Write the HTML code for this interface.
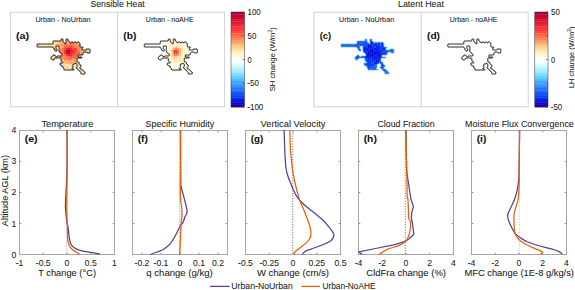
<!DOCTYPE html>
<html><head><meta charset="utf-8"><style>html,body{margin:0;padding:0;background:#fff;width:575px;height:290px;overflow:hidden}svg{display:block}text{font-family:"Liberation Sans",sans-serif;stroke:#1a1a1a;stroke-width:0.06px}</style></head>
<body><svg width="575" height="290" viewBox="0 0 575 290">
<rect width="575" height="290" fill="#fff"/>
<text x="90.40" y="7.00" font-size="8.3" fill="#1a1a1a" textLength="54.30" lengthAdjust="spacingAndGlyphs">Sensible Heat</text>
<text x="398.00" y="6.80" font-size="8.3" fill="#1a1a1a" textLength="45.90" lengthAdjust="spacingAndGlyphs">Latent Heat</text>
<rect x="10.6" y="12.2" width="214.0" height="94.6" fill="none" stroke="#d2d2d2" stroke-width="1"/>
<line x1="117.6" y1="12.2" x2="117.6" y2="106.8" stroke="#d2d2d2" stroke-width="1"/>
<rect x="314.0" y="12.2" width="214.20000000000005" height="94.6" fill="none" stroke="#d2d2d2" stroke-width="1"/>
<line x1="421.2" y1="12.2" x2="421.2" y2="106.8" stroke="#d2d2d2" stroke-width="1"/>
<text x="35.40" y="22.30" font-size="7" fill="#1a1a1a" textLength="55.10" lengthAdjust="spacingAndGlyphs">Urban - NoUrban</text>
<text x="145.80" y="22.30" font-size="7" fill="#1a1a1a" textLength="47.80" lengthAdjust="spacingAndGlyphs">Urban - noAHE</text>
<text x="339.00" y="22.40" font-size="7" fill="#1a1a1a" textLength="55.20" lengthAdjust="spacingAndGlyphs">Urban - NoUrban</text>
<text x="449.70" y="22.40" font-size="7" fill="#1a1a1a" textLength="47.80" lengthAdjust="spacingAndGlyphs">Urban - noAHE</text>
<text x="15.90" y="38.60" font-size="8.2" font-weight="bold" fill="#111" textLength="13.20" lengthAdjust="spacingAndGlyphs">(a)</text>
<text x="123.30" y="38.60" font-size="8.2" font-weight="bold" fill="#111" textLength="13.00" lengthAdjust="spacingAndGlyphs">(b)</text>
<text x="319.70" y="38.60" font-size="8.2" font-weight="bold" fill="#111" textLength="11.40" lengthAdjust="spacingAndGlyphs">(c)</text>
<text x="427.00" y="38.60" font-size="8.2" font-weight="bold" fill="#111" textLength="13.00" lengthAdjust="spacingAndGlyphs">(d)</text>
<rect x="231.0" y="12.00" width="13.5" height="2.67" fill="#a9032f"/>
<rect x="231.0" y="14.38" width="13.5" height="2.67" fill="#ba082c"/>
<rect x="231.0" y="16.75" width="13.5" height="2.67" fill="#c80e2f"/>
<rect x="231.0" y="19.12" width="13.5" height="2.67" fill="#d61432"/>
<rect x="231.0" y="21.50" width="13.5" height="2.67" fill="#e21c36"/>
<rect x="231.0" y="23.88" width="13.5" height="2.67" fill="#ed253a"/>
<rect x="231.0" y="26.25" width="13.5" height="2.67" fill="#f72f40"/>
<rect x="231.0" y="28.62" width="13.5" height="2.67" fill="#fe3740"/>
<rect x="231.0" y="31.00" width="13.5" height="2.67" fill="#ff4e40"/>
<rect x="231.0" y="33.38" width="13.5" height="2.67" fill="#ff6244"/>
<rect x="231.0" y="35.75" width="13.5" height="2.67" fill="#ff744d"/>
<rect x="231.0" y="38.12" width="13.5" height="2.67" fill="#ff8755"/>
<rect x="231.0" y="40.50" width="13.5" height="2.67" fill="#ff9c60"/>
<rect x="231.0" y="42.88" width="13.5" height="2.67" fill="#ffb474"/>
<rect x="231.0" y="45.25" width="13.5" height="2.67" fill="#ffc888"/>
<rect x="231.0" y="47.62" width="13.5" height="2.67" fill="#ffda9a"/>
<rect x="231.0" y="50.00" width="13.5" height="2.67" fill="#feebaf"/>
<rect x="231.0" y="52.38" width="13.5" height="2.67" fill="#fff3c6"/>
<rect x="231.0" y="54.75" width="13.5" height="2.67" fill="#fff7da"/>
<rect x="231.0" y="57.12" width="13.5" height="2.67" fill="#fffcf1"/>
<rect x="231.0" y="59.50" width="13.5" height="2.67" fill="#fcffff"/>
<rect x="231.0" y="61.88" width="13.5" height="2.67" fill="#ecfeff"/>
<rect x="231.0" y="64.25" width="13.5" height="2.67" fill="#d5faff"/>
<rect x="231.0" y="66.62" width="13.5" height="2.67" fill="#bff5ff"/>
<rect x="231.0" y="69.00" width="13.5" height="2.67" fill="#a8efff"/>
<rect x="231.0" y="71.38" width="13.5" height="2.67" fill="#92e9ff"/>
<rect x="231.0" y="73.75" width="13.5" height="2.67" fill="#7cdcff"/>
<rect x="231.0" y="76.12" width="13.5" height="2.67" fill="#66ceff"/>
<rect x="231.0" y="78.50" width="13.5" height="2.67" fill="#50bcff"/>
<rect x="231.0" y="80.88" width="13.5" height="2.67" fill="#3eabff"/>
<rect x="231.0" y="83.25" width="13.5" height="2.67" fill="#369bff"/>
<rect x="231.0" y="85.62" width="13.5" height="2.67" fill="#2d8bff"/>
<rect x="231.0" y="88.00" width="13.5" height="2.67" fill="#2479ff"/>
<rect x="231.0" y="90.38" width="13.5" height="2.67" fill="#1c67fb"/>
<rect x="231.0" y="92.75" width="13.5" height="2.67" fill="#1355f2"/>
<rect x="231.0" y="95.12" width="13.5" height="2.67" fill="#0d40ed"/>
<rect x="231.0" y="97.50" width="13.5" height="2.67" fill="#082ae8"/>
<rect x="231.0" y="99.88" width="13.5" height="2.67" fill="#0816df"/>
<rect x="231.0" y="102.25" width="13.5" height="2.67" fill="#0e06ce"/>
<rect x="231.0" y="104.62" width="13.5" height="2.67" fill="#2000ad"/>
<rect x="231.0" y="12.0" width="13.5" height="95.0" fill="none" stroke="#333" stroke-width="0.5"/>
<rect x="534.8" y="12.00" width="13.200000000000045" height="2.67" fill="#a9032f"/>
<rect x="534.8" y="14.38" width="13.200000000000045" height="2.67" fill="#ba082c"/>
<rect x="534.8" y="16.75" width="13.200000000000045" height="2.67" fill="#c80e2f"/>
<rect x="534.8" y="19.12" width="13.200000000000045" height="2.67" fill="#d61432"/>
<rect x="534.8" y="21.50" width="13.200000000000045" height="2.67" fill="#e21c36"/>
<rect x="534.8" y="23.88" width="13.200000000000045" height="2.67" fill="#ed253a"/>
<rect x="534.8" y="26.25" width="13.200000000000045" height="2.67" fill="#f72f40"/>
<rect x="534.8" y="28.62" width="13.200000000000045" height="2.67" fill="#fe3740"/>
<rect x="534.8" y="31.00" width="13.200000000000045" height="2.67" fill="#ff4e40"/>
<rect x="534.8" y="33.38" width="13.200000000000045" height="2.67" fill="#ff6244"/>
<rect x="534.8" y="35.75" width="13.200000000000045" height="2.67" fill="#ff744d"/>
<rect x="534.8" y="38.12" width="13.200000000000045" height="2.67" fill="#ff8755"/>
<rect x="534.8" y="40.50" width="13.200000000000045" height="2.67" fill="#ff9c60"/>
<rect x="534.8" y="42.88" width="13.200000000000045" height="2.67" fill="#ffb474"/>
<rect x="534.8" y="45.25" width="13.200000000000045" height="2.67" fill="#ffc888"/>
<rect x="534.8" y="47.62" width="13.200000000000045" height="2.67" fill="#ffda9a"/>
<rect x="534.8" y="50.00" width="13.200000000000045" height="2.67" fill="#feebaf"/>
<rect x="534.8" y="52.38" width="13.200000000000045" height="2.67" fill="#fff3c6"/>
<rect x="534.8" y="54.75" width="13.200000000000045" height="2.67" fill="#fff7da"/>
<rect x="534.8" y="57.12" width="13.200000000000045" height="2.67" fill="#fffcf1"/>
<rect x="534.8" y="59.50" width="13.200000000000045" height="2.67" fill="#fcffff"/>
<rect x="534.8" y="61.88" width="13.200000000000045" height="2.67" fill="#ecfeff"/>
<rect x="534.8" y="64.25" width="13.200000000000045" height="2.67" fill="#d5faff"/>
<rect x="534.8" y="66.62" width="13.200000000000045" height="2.67" fill="#bff5ff"/>
<rect x="534.8" y="69.00" width="13.200000000000045" height="2.67" fill="#a8efff"/>
<rect x="534.8" y="71.38" width="13.200000000000045" height="2.67" fill="#92e9ff"/>
<rect x="534.8" y="73.75" width="13.200000000000045" height="2.67" fill="#7cdcff"/>
<rect x="534.8" y="76.12" width="13.200000000000045" height="2.67" fill="#66ceff"/>
<rect x="534.8" y="78.50" width="13.200000000000045" height="2.67" fill="#50bcff"/>
<rect x="534.8" y="80.88" width="13.200000000000045" height="2.67" fill="#3eabff"/>
<rect x="534.8" y="83.25" width="13.200000000000045" height="2.67" fill="#369bff"/>
<rect x="534.8" y="85.62" width="13.200000000000045" height="2.67" fill="#2d8bff"/>
<rect x="534.8" y="88.00" width="13.200000000000045" height="2.67" fill="#2479ff"/>
<rect x="534.8" y="90.38" width="13.200000000000045" height="2.67" fill="#1c67fb"/>
<rect x="534.8" y="92.75" width="13.200000000000045" height="2.67" fill="#1355f2"/>
<rect x="534.8" y="95.12" width="13.200000000000045" height="2.67" fill="#0d40ed"/>
<rect x="534.8" y="97.50" width="13.200000000000045" height="2.67" fill="#082ae8"/>
<rect x="534.8" y="99.88" width="13.200000000000045" height="2.67" fill="#0816df"/>
<rect x="534.8" y="102.25" width="13.200000000000045" height="2.67" fill="#0e06ce"/>
<rect x="534.8" y="104.62" width="13.200000000000045" height="2.67" fill="#2000ad"/>
<rect x="534.8" y="12.0" width="13.200000000000045" height="95.0" fill="none" stroke="#333" stroke-width="0.5"/>
<text x="247.50" y="15.05" font-size="8.5" fill="#1a1a1a" textLength="13.30" lengthAdjust="spacingAndGlyphs">100</text>
<text x="247.50" y="38.80" font-size="8.5" fill="#1a1a1a" textLength="8.80" lengthAdjust="spacingAndGlyphs">50</text>
<text x="247.50" y="62.55" font-size="8.5" fill="#1a1a1a" textLength="4.10" lengthAdjust="spacingAndGlyphs">0</text>
<text x="247.30" y="86.30" font-size="8.5" fill="#1a1a1a" textLength="11.60" lengthAdjust="spacingAndGlyphs">-50</text>
<text x="247.30" y="110.05" font-size="8.5" fill="#1a1a1a" textLength="16.00" lengthAdjust="spacingAndGlyphs">-100</text>
<text x="551.00" y="15.05" font-size="8.5" fill="#1a1a1a" textLength="8.80" lengthAdjust="spacingAndGlyphs">50</text>
<text x="551.00" y="62.55" font-size="8.5" fill="#1a1a1a" textLength="4.10" lengthAdjust="spacingAndGlyphs">0</text>
<text x="550.80" y="110.05" font-size="8.5" fill="#1a1a1a" textLength="11.50" lengthAdjust="spacingAndGlyphs">-50</text>
<line x1="244.5" y1="12.0" x2="242.7" y2="12.0" stroke="#555" stroke-width="0.8"/>
<line x1="244.5" y1="35.75" x2="242.7" y2="35.75" stroke="#555" stroke-width="0.8"/>
<line x1="244.5" y1="59.5" x2="242.7" y2="59.5" stroke="#555" stroke-width="0.8"/>
<line x1="244.5" y1="83.25" x2="242.7" y2="83.25" stroke="#555" stroke-width="0.8"/>
<line x1="244.5" y1="107.0" x2="242.7" y2="107.0" stroke="#555" stroke-width="0.8"/>
<line x1="548.0" y1="12.0" x2="546.2" y2="12.0" stroke="#555" stroke-width="0.8"/>
<line x1="548.0" y1="35.75" x2="546.2" y2="35.75" stroke="#555" stroke-width="0.8"/>
<line x1="548.0" y1="59.5" x2="546.2" y2="59.5" stroke="#555" stroke-width="0.8"/>
<line x1="548.0" y1="83.25" x2="546.2" y2="83.25" stroke="#555" stroke-width="0.8"/>
<line x1="548.0" y1="107.0" x2="546.2" y2="107.0" stroke="#555" stroke-width="0.8"/>
<text transform="translate(274.5,91.3) rotate(-90)" font-size="7.7" fill="#1a1a1a">SH change (W/m<tspan font-size="5.3" dy="-2.8">2</tspan><tspan dy="2.8">)</tspan></text>
<text transform="translate(573.6,88.1) rotate(-90)" font-size="7.5" fill="#1a1a1a">LH change (W/m<tspan font-size="5.2" dy="-2.7">2</tspan><tspan dy="2.7">)</tspan></text>
<defs>
<path id="city" d="M84.6,74.0 84.1,74.0 83.6,74.0 83.1,74.0 82.6,74.0 82.1,74.0 81.6,74.0 81.2,73.9 81.0,73.6 81.0,73.1 81.0,72.6 80.9,72.2 80.6,72.0 80.2,71.9 80.0,71.6 79.9,71.2 79.6,71.0 79.2,70.9 79.0,70.6 78.9,70.2 78.6,70.0 78.2,69.9 78.0,69.6 77.9,69.2 77.6,69.0 77.2,68.9 77.0,68.6 76.9,68.2 76.6,68.0 76.2,67.9 76.0,67.6 76.1,67.2 76.4,67.0 76.8,66.9 77.0,66.6 77.0,66.1 77.0,65.6 77.0,65.1 77.0,64.6 76.9,64.2 76.6,64.0 76.2,63.9 76.0,63.6 75.9,63.2 75.6,63.0 75.2,63.1 75.0,63.4 74.9,63.8 74.6,64.0 74.1,64.0 73.6,64.0 73.2,64.1 73.0,64.4 73.0,64.9 73.0,65.4 73.0,65.9 73.0,66.4 73.0,66.9 73.0,67.4 72.9,67.8 72.6,68.0 72.2,68.1 72.0,68.4 72.1,68.8 72.4,69.0 72.9,69.0 73.4,69.0 73.8,69.1 74.0,69.4 73.9,69.8 73.6,70.0 73.1,70.0 72.6,70.0 72.1,70.0 71.6,70.0 71.1,70.0 70.6,70.0 70.1,70.0 69.6,70.0 69.1,70.0 68.6,70.0 68.1,70.0 67.6,70.0 67.1,70.0 66.6,70.0 66.1,70.0 65.6,70.0 65.1,70.0 64.6,70.0 64.2,69.9 64.0,69.6 64.0,69.1 64.0,68.6 63.9,68.2 63.6,68.0 63.2,67.9 63.0,67.6 63.0,67.1 63.0,66.6 62.9,66.2 62.6,66.0 62.1,66.0 61.6,66.0 61.2,65.9 61.0,65.6 60.9,65.2 60.6,65.0 60.2,64.9 60.0,64.6 60.0,64.1 60.0,63.6 60.1,63.2 60.4,63.0 60.9,63.0 61.4,63.0 61.9,63.0 62.4,63.0 62.8,62.9 63.0,62.6 62.9,62.2 62.6,62.0 62.2,61.9 62.0,61.6 61.9,61.2 61.6,61.0 61.2,60.9 61.0,60.6 61.0,60.1 61.0,59.6 61.0,59.1 61.0,58.6 60.9,58.2 60.6,58.0 60.1,58.0 59.6,58.0 59.1,58.0 58.6,58.0 58.1,58.0 57.6,58.0 57.1,58.0 56.6,58.0 56.1,58.0 55.6,58.0 55.2,58.1 55.0,58.4 54.9,58.8 54.6,59.0 54.2,59.1 54.0,59.4 53.9,59.8 53.6,60.0 53.1,60.0 52.6,60.0 52.2,59.9 52.0,59.6 51.9,59.2 51.6,59.0 51.2,58.9 51.0,58.6 51.0,58.1 51.0,57.6 51.1,57.2 51.4,57.0 51.8,56.9 52.0,56.6 52.1,56.2 52.4,56.0 52.8,55.9 53.0,55.6 53.1,55.2 53.4,55.0 53.9,55.0 54.4,55.0 54.8,55.1 55.0,55.4 55.1,55.8 55.4,56.0 55.8,56.1 56.0,56.4 56.1,56.8 56.4,57.0 56.8,56.9 57.0,56.6 57.1,56.2 57.4,56.0 57.9,56.0 58.4,56.0 58.9,56.0 59.4,56.0 59.9,56.0 60.4,56.0 60.9,56.0 61.4,56.0 61.8,55.9 62.0,55.6 62.0,55.1 62.0,54.6 61.9,54.2 61.6,54.0 61.2,53.9 61.0,53.6 60.9,53.2 60.6,53.0 60.2,52.9 60.0,52.6 59.9,52.2 59.6,52.0 59.2,51.9 59.0,51.6 59.0,51.1 59.0,50.6 59.0,50.1 59.0,49.6 59.0,49.1 59.0,48.6 59.0,48.1 59.0,47.6 59.0,47.1 59.0,46.6 58.9,46.2 58.6,46.0 58.1,46.0 57.6,46.0 57.1,46.0 56.6,46.0 56.2,46.1 56.0,46.4 56.0,46.9 56.0,47.4 56.0,47.9 56.0,48.4 56.1,48.8 56.4,49.0 56.8,49.1 57.0,49.4 57.0,49.9 57.0,50.4 56.9,50.8 56.6,51.0 56.1,51.0 55.6,51.0 55.2,50.9 55.0,50.6 54.9,50.2 54.6,50.0 54.2,49.9 54.0,49.6 54.0,49.1 54.0,48.6 53.9,48.2 53.6,48.0 53.2,47.9 53.0,47.6 52.9,47.2 52.6,47.0 52.1,47.0 51.6,47.0 51.1,47.0 50.6,47.0 50.1,47.0 49.6,47.0 49.1,47.0 48.6,47.0 48.1,47.0 47.6,47.0 47.1,47.0 46.6,47.0 46.1,47.0 45.6,47.0 45.1,47.0 44.6,47.0 44.1,47.0 43.6,47.0 43.1,47.0 42.6,47.0 42.1,47.0 41.6,47.0 41.1,47.0 40.6,47.0 40.1,47.0 39.6,47.0 39.1,47.0 38.6,47.0 38.1,47.0 37.6,47.0 37.2,46.9 37.0,46.6 37.0,46.1 37.0,45.6 37.0,45.1 37.0,44.6 37.1,44.2 37.4,44.0 37.9,44.0 38.4,44.0 38.9,44.0 39.4,44.0 39.9,44.0 40.4,44.0 40.9,44.0 41.4,44.0 41.9,44.0 42.4,44.0 42.9,44.0 43.4,44.0 43.9,44.0 44.4,44.0 44.9,44.0 45.4,44.0 45.9,44.0 46.4,44.0 46.9,44.0 47.4,44.0 47.9,44.0 48.4,44.0 48.9,44.0 49.4,44.0 49.9,44.0 50.4,44.0 50.9,44.0 51.4,44.0 51.9,44.0 52.4,44.0 52.8,43.9 53.0,43.6 53.0,43.1 53.0,42.6 53.0,42.1 53.0,41.6 53.1,41.2 53.4,41.0 53.9,41.0 54.4,41.0 54.9,41.0 55.4,41.0 55.9,41.0 56.4,41.0 56.9,41.0 57.4,41.0 57.9,41.0 58.4,41.0 58.9,41.0 59.4,41.0 59.9,41.0 60.4,41.0 60.8,40.9 61.0,40.6 61.0,40.1 61.0,39.6 61.1,39.2 61.4,39.0 61.9,39.0 62.4,39.0 62.8,39.1 63.0,39.4 63.0,39.9 63.0,40.4 63.0,40.9 63.0,41.4 63.1,41.8 63.4,42.0 63.8,42.1 64.0,42.4 64.1,42.8 64.4,43.0 64.8,43.1 65.0,43.4 65.1,43.8 65.4,44.0 65.8,43.9 66.0,43.6 66.0,43.1 66.0,42.6 66.0,42.1 66.0,41.6 66.0,41.1 66.0,40.6 66.0,40.1 66.0,39.6 66.1,39.2 66.4,39.0 66.9,39.0 67.4,39.0 67.8,39.1 68.0,39.4 68.0,39.9 68.0,40.4 68.1,40.8 68.4,41.0 68.8,41.1 69.0,41.4 69.1,41.8 69.4,42.0 69.8,42.1 70.0,42.4 70.1,42.8 70.4,43.0 70.8,42.9 71.0,42.6 71.1,42.2 71.4,42.0 71.9,42.0 72.4,42.0 72.8,42.1 73.0,42.4 73.1,42.8 73.4,43.0 73.8,42.9 74.0,42.6 74.1,42.2 74.4,42.0 74.9,42.0 75.4,42.0 75.8,42.1 76.0,42.4 76.1,42.8 76.4,43.0 76.8,42.9 77.0,42.6 77.1,42.2 77.4,42.0 77.9,42.0 78.4,42.0 78.8,42.1 79.0,42.4 79.1,42.8 79.4,43.0 79.8,43.1 80.0,43.4 80.0,43.9 80.0,44.4 80.0,44.9 80.0,45.4 80.0,45.9 80.0,46.4 80.1,46.8 80.4,47.0 80.9,47.0 81.4,47.0 81.9,47.0 82.4,47.0 82.8,47.1 83.0,47.4 82.9,47.8 82.6,48.0 82.2,48.1 82.0,48.4 82.0,48.9 82.0,49.4 82.1,49.8 82.4,50.0 82.9,50.0 83.4,50.0 83.9,50.0 84.4,50.0 84.9,50.0 85.4,50.0 85.8,49.9 86.0,49.6 86.1,49.2 86.4,49.0 86.9,49.0 87.4,49.0 87.9,49.0 88.4,49.0 88.9,49.0 89.4,49.0 89.8,49.1 90.0,49.4 90.0,49.9 90.0,50.4 90.0,50.9 90.0,51.4 90.0,51.9 90.0,52.4 89.9,52.8 89.6,53.0 89.1,53.0 88.6,53.0 88.1,53.0 87.6,53.0 87.2,52.9 87.0,52.6 86.9,52.2 86.6,52.0 86.1,52.0 85.6,52.0 85.1,52.0 84.6,52.0 84.2,52.1 84.0,52.4 83.9,52.8 83.6,53.0 83.2,53.1 83.0,53.4 83.0,53.9 83.0,54.4 82.9,54.8 82.6,55.0 82.1,55.0 81.6,55.0 81.1,55.0 80.6,55.0 80.1,55.0 79.6,55.0 79.1,55.0 78.6,55.0 78.2,55.1 78.0,55.4 78.0,55.9 78.0,56.4 78.1,56.8 78.4,57.0 78.9,57.0 79.4,57.0 79.9,57.0 80.4,57.0 80.9,57.0 81.4,57.0 81.8,57.1 82.0,57.4 81.9,57.8 81.6,58.0 81.1,58.0 80.6,58.0 80.1,58.0 79.6,58.0 79.1,58.0 78.6,58.0 78.1,58.0 77.6,58.0 77.2,58.1 77.0,58.4 77.0,58.9 77.0,59.4 77.0,59.9 77.0,60.4 77.0,60.9 77.0,61.4 77.1,61.8 77.4,62.0 77.9,62.0 78.4,62.0 78.8,62.1 79.0,62.4 79.0,62.9 79.0,63.4 79.1,63.8 79.4,64.0 79.8,64.1 80.0,64.4 80.1,64.8 80.4,65.0 80.8,65.1 81.0,65.4 81.0,65.9 81.0,66.4 80.9,66.8 80.6,67.0 80.2,67.1 80.0,67.4 80.0,67.9 80.0,68.4 80.1,68.8 80.4,69.0 80.9,69.0 81.4,69.0 81.8,69.1 82.0,69.4 82.1,69.8 82.4,70.0 82.8,70.1 83.0,70.4 83.1,70.8 83.4,71.0 83.8,71.1 84.0,71.4 84.1,71.8 84.4,72.0 84.8,72.1 85.0,72.4 85.0,72.9 85.0,73.4 84.9,73.8 84.6,74.0Z"/>
<clipPath id="cityclip"><use href="#city"/></clipPath>
<radialGradient id="ga" cx="68.5" cy="51.5" r="24" gradientUnits="userSpaceOnUse"><stop offset="0" stop-color="#a00026"/><stop offset="0.07" stop-color="#d8182e"/><stop offset="0.22" stop-color="#f4483c"/><stop offset="0.42" stop-color="#fd9868"/><stop offset="0.65" stop-color="#fdc48a"/><stop offset="1" stop-color="#fee4aa"/></radialGradient>
<radialGradient id="gb" cx="68.5" cy="52" r="13" gradientUnits="userSpaceOnUse"><stop offset="0" stop-color="#e0102a"/><stop offset="0.18" stop-color="#f84a40"/><stop offset="0.4" stop-color="#fdc088"/><stop offset="0.7" stop-color="#fee8c0"/><stop offset="1" stop-color="#ffffff"/></radialGradient>
</defs>
<g transform="translate(0,0)" clip-path="url(#cityclip)">
<rect x="36" y="38" width="2" height="2" fill="#fff3c6"/>
<rect x="38" y="38" width="4" height="2" fill="#feebaf"/>
<rect x="42" y="38" width="2" height="2" fill="#fff3c6"/>
<rect x="44" y="38" width="2" height="2" fill="#feebaf"/>
<rect x="46" y="38" width="2" height="2" fill="#fff3c6"/>
<rect x="48" y="38" width="4" height="2" fill="#feebaf"/>
<rect x="52" y="38" width="4" height="2" fill="#fff3c6"/>
<rect x="56" y="38" width="4" height="2" fill="#ffda9a"/>
<rect x="60" y="38" width="2" height="2" fill="#ffc888"/>
<rect x="62" y="38" width="2" height="2" fill="#feebaf"/>
<rect x="64" y="38" width="2" height="2" fill="#ffda9a"/>
<rect x="66" y="38" width="2" height="2" fill="#ffc888"/>
<rect x="68" y="38" width="2" height="2" fill="#ffda9a"/>
<rect x="70" y="38" width="4" height="2" fill="#ffb474"/>
<rect x="74" y="38" width="2" height="2" fill="#ffda9a"/>
<rect x="76" y="38" width="2" height="2" fill="#feebaf"/>
<rect x="78" y="38" width="2" height="2" fill="#ffda9a"/>
<rect x="80" y="38" width="2" height="2" fill="#ffc888"/>
<rect x="82" y="38" width="6" height="2" fill="#feebaf"/>
<rect x="88" y="38" width="4" height="2" fill="#fff3c6"/>
<rect x="36" y="40" width="2" height="2" fill="#fff3c6"/>
<rect x="38" y="40" width="2" height="2" fill="#feebaf"/>
<rect x="40" y="40" width="6" height="2" fill="#fff3c6"/>
<rect x="46" y="40" width="2" height="2" fill="#feebaf"/>
<rect x="48" y="40" width="4" height="2" fill="#fff3c6"/>
<rect x="52" y="40" width="6" height="2" fill="#ffda9a"/>
<rect x="58" y="40" width="2" height="2" fill="#feebaf"/>
<rect x="60" y="40" width="4" height="2" fill="#ffb474"/>
<rect x="64" y="40" width="2" height="2" fill="#ffc888"/>
<rect x="66" y="40" width="2" height="2" fill="#ffb474"/>
<rect x="68" y="40" width="6" height="2" fill="#ff9c60"/>
<rect x="74" y="40" width="4" height="2" fill="#ffb474"/>
<rect x="78" y="40" width="2" height="2" fill="#ffc888"/>
<rect x="80" y="40" width="4" height="2" fill="#ffda9a"/>
<rect x="84" y="40" width="2" height="2" fill="#ffc888"/>
<rect x="86" y="40" width="2" height="2" fill="#ffda9a"/>
<rect x="88" y="40" width="4" height="2" fill="#feebaf"/>
<rect x="36" y="42" width="2" height="2" fill="#fff7da"/>
<rect x="38" y="42" width="2" height="2" fill="#fff3c6"/>
<rect x="40" y="42" width="2" height="2" fill="#feebaf"/>
<rect x="42" y="42" width="4" height="2" fill="#fff3c6"/>
<rect x="46" y="42" width="4" height="2" fill="#feebaf"/>
<rect x="50" y="42" width="2" height="2" fill="#ffda9a"/>
<rect x="52" y="42" width="2" height="2" fill="#feebaf"/>
<rect x="54" y="42" width="4" height="2" fill="#ffda9a"/>
<rect x="58" y="42" width="6" height="2" fill="#ffb474"/>
<rect x="64" y="42" width="2" height="2" fill="#ff9c60"/>
<rect x="66" y="42" width="4" height="2" fill="#ffb474"/>
<rect x="70" y="42" width="2" height="2" fill="#ff8755"/>
<rect x="72" y="42" width="2" height="2" fill="#ff744d"/>
<rect x="74" y="42" width="2" height="2" fill="#ff9c60"/>
<rect x="76" y="42" width="2" height="2" fill="#ffb474"/>
<rect x="78" y="42" width="4" height="2" fill="#ffc888"/>
<rect x="82" y="42" width="2" height="2" fill="#ffb474"/>
<rect x="84" y="42" width="2" height="2" fill="#ffc888"/>
<rect x="86" y="42" width="4" height="2" fill="#ffda9a"/>
<rect x="90" y="42" width="2" height="2" fill="#fff3c6"/>
<rect x="36" y="44" width="2" height="2" fill="#feebaf"/>
<rect x="38" y="44" width="2" height="2" fill="#ffda9a"/>
<rect x="40" y="44" width="2" height="2" fill="#feebaf"/>
<rect x="42" y="44" width="4" height="2" fill="#fff3c6"/>
<rect x="46" y="44" width="2" height="2" fill="#feebaf"/>
<rect x="48" y="44" width="2" height="2" fill="#ffda9a"/>
<rect x="50" y="44" width="2" height="2" fill="#fff3c6"/>
<rect x="52" y="44" width="2" height="2" fill="#ffda9a"/>
<rect x="54" y="44" width="2" height="2" fill="#ffc888"/>
<rect x="56" y="44" width="4" height="2" fill="#ffb474"/>
<rect x="60" y="44" width="4" height="2" fill="#ff9c60"/>
<rect x="64" y="44" width="2" height="2" fill="#ff8755"/>
<rect x="66" y="44" width="2" height="2" fill="#ff744d"/>
<rect x="68" y="44" width="2" height="2" fill="#ff8755"/>
<rect x="70" y="44" width="2" height="2" fill="#ff6244"/>
<rect x="72" y="44" width="2" height="2" fill="#ff744d"/>
<rect x="74" y="44" width="4" height="2" fill="#ff8755"/>
<rect x="78" y="44" width="2" height="2" fill="#ff9c60"/>
<rect x="80" y="44" width="2" height="2" fill="#ffb474"/>
<rect x="82" y="44" width="4" height="2" fill="#ffc888"/>
<rect x="86" y="44" width="4" height="2" fill="#ffda9a"/>
<rect x="90" y="44" width="2" height="2" fill="#feebaf"/>
<rect x="36" y="46" width="2" height="2" fill="#fff7da"/>
<rect x="38" y="46" width="4" height="2" fill="#fff3c6"/>
<rect x="42" y="46" width="2" height="2" fill="#feebaf"/>
<rect x="44" y="46" width="8" height="2" fill="#ffda9a"/>
<rect x="52" y="46" width="2" height="2" fill="#feebaf"/>
<rect x="54" y="46" width="2" height="2" fill="#ffc888"/>
<rect x="56" y="46" width="2" height="2" fill="#ffb474"/>
<rect x="58" y="46" width="2" height="2" fill="#ffc888"/>
<rect x="60" y="46" width="2" height="2" fill="#ffb474"/>
<rect x="62" y="46" width="2" height="2" fill="#ff9c60"/>
<rect x="64" y="46" width="4" height="2" fill="#ff6244"/>
<rect x="68" y="46" width="4" height="2" fill="#ff4e40"/>
<rect x="72" y="46" width="2" height="2" fill="#ff6244"/>
<rect x="74" y="46" width="6" height="2" fill="#ff8755"/>
<rect x="80" y="46" width="2" height="2" fill="#ffb474"/>
<rect x="82" y="46" width="4" height="2" fill="#ffc888"/>
<rect x="86" y="46" width="2" height="2" fill="#ffda9a"/>
<rect x="88" y="46" width="4" height="2" fill="#feebaf"/>
<rect x="36" y="48" width="2" height="2" fill="#fff7da"/>
<rect x="38" y="48" width="8" height="2" fill="#fff3c6"/>
<rect x="46" y="48" width="2" height="2" fill="#ffda9a"/>
<rect x="48" y="48" width="4" height="2" fill="#feebaf"/>
<rect x="52" y="48" width="2" height="2" fill="#ffda9a"/>
<rect x="54" y="48" width="2" height="2" fill="#ffb474"/>
<rect x="56" y="48" width="2" height="2" fill="#ffda9a"/>
<rect x="58" y="48" width="2" height="2" fill="#ffb474"/>
<rect x="60" y="48" width="2" height="2" fill="#ff9c60"/>
<rect x="62" y="48" width="2" height="2" fill="#ff6244"/>
<rect x="64" y="48" width="2" height="2" fill="#ff4e40"/>
<rect x="66" y="48" width="2" height="2" fill="#ed253a"/>
<rect x="68" y="48" width="2" height="2" fill="#e21c36"/>
<rect x="70" y="48" width="2" height="2" fill="#ed253a"/>
<rect x="72" y="48" width="2" height="2" fill="#ff4e40"/>
<rect x="74" y="48" width="2" height="2" fill="#fe3740"/>
<rect x="76" y="48" width="2" height="2" fill="#ff6244"/>
<rect x="78" y="48" width="2" height="2" fill="#ff8755"/>
<rect x="80" y="48" width="2" height="2" fill="#ff9c60"/>
<rect x="82" y="48" width="2" height="2" fill="#ffb474"/>
<rect x="84" y="48" width="4" height="2" fill="#ffc888"/>
<rect x="88" y="48" width="2" height="2" fill="#feebaf"/>
<rect x="90" y="48" width="2" height="2" fill="#ffda9a"/>
<rect x="36" y="50" width="2" height="2" fill="#fff7da"/>
<rect x="38" y="50" width="2" height="2" fill="#fff3c6"/>
<rect x="40" y="50" width="4" height="2" fill="#ffda9a"/>
<rect x="44" y="50" width="2" height="2" fill="#fff3c6"/>
<rect x="46" y="50" width="2" height="2" fill="#ffda9a"/>
<rect x="48" y="50" width="2" height="2" fill="#feebaf"/>
<rect x="50" y="50" width="8" height="2" fill="#ffc888"/>
<rect x="58" y="50" width="2" height="2" fill="#ffb474"/>
<rect x="60" y="50" width="4" height="2" fill="#ff744d"/>
<rect x="64" y="50" width="2" height="2" fill="#f72f40"/>
<rect x="66" y="50" width="2" height="2" fill="#c80e2f"/>
<rect x="68" y="50" width="2" height="2" fill="#ba082c"/>
<rect x="70" y="50" width="2" height="2" fill="#e21c36"/>
<rect x="72" y="50" width="2" height="2" fill="#ed253a"/>
<rect x="74" y="50" width="2" height="2" fill="#fe3740"/>
<rect x="76" y="50" width="2" height="2" fill="#ff6244"/>
<rect x="78" y="50" width="2" height="2" fill="#ff744d"/>
<rect x="80" y="50" width="2" height="2" fill="#ff9c60"/>
<rect x="82" y="50" width="2" height="2" fill="#ffb474"/>
<rect x="84" y="50" width="4" height="2" fill="#ffc888"/>
<rect x="88" y="50" width="2" height="2" fill="#ffda9a"/>
<rect x="90" y="50" width="2" height="2" fill="#feebaf"/>
<rect x="36" y="52" width="2" height="2" fill="#fff3c6"/>
<rect x="38" y="52" width="2" height="2" fill="#feebaf"/>
<rect x="40" y="52" width="2" height="2" fill="#fff3c6"/>
<rect x="42" y="52" width="2" height="2" fill="#feebaf"/>
<rect x="44" y="52" width="2" height="2" fill="#fff3c6"/>
<rect x="46" y="52" width="4" height="2" fill="#ffda9a"/>
<rect x="50" y="52" width="2" height="2" fill="#fff3c6"/>
<rect x="52" y="52" width="2" height="2" fill="#feebaf"/>
<rect x="54" y="52" width="2" height="2" fill="#ffda9a"/>
<rect x="56" y="52" width="4" height="2" fill="#ff9c60"/>
<rect x="60" y="52" width="2" height="2" fill="#ff8755"/>
<rect x="62" y="52" width="2" height="2" fill="#ff744d"/>
<rect x="64" y="52" width="2" height="2" fill="#f72f40"/>
<rect x="66" y="52" width="2" height="2" fill="#d61432"/>
<rect x="68" y="52" width="2" height="2" fill="#c80e2f"/>
<rect x="70" y="52" width="2" height="2" fill="#ed253a"/>
<rect x="72" y="52" width="2" height="2" fill="#f72f40"/>
<rect x="74" y="52" width="2" height="2" fill="#ff4e40"/>
<rect x="76" y="52" width="4" height="2" fill="#ff6244"/>
<rect x="80" y="52" width="4" height="2" fill="#ff9c60"/>
<rect x="84" y="52" width="4" height="2" fill="#ffda9a"/>
<rect x="88" y="52" width="2" height="2" fill="#ffc888"/>
<rect x="90" y="52" width="2" height="2" fill="#feebaf"/>
<rect x="36" y="54" width="6" height="2" fill="#feebaf"/>
<rect x="42" y="54" width="6" height="2" fill="#fff3c6"/>
<rect x="48" y="54" width="4" height="2" fill="#ffda9a"/>
<rect x="52" y="54" width="2" height="2" fill="#ffc888"/>
<rect x="54" y="54" width="2" height="2" fill="#ffb474"/>
<rect x="56" y="54" width="2" height="2" fill="#ffc888"/>
<rect x="58" y="54" width="4" height="2" fill="#ff9c60"/>
<rect x="62" y="54" width="2" height="2" fill="#ff8755"/>
<rect x="64" y="54" width="2" height="2" fill="#ff744d"/>
<rect x="66" y="54" width="2" height="2" fill="#f72f40"/>
<rect x="68" y="54" width="2" height="2" fill="#ed253a"/>
<rect x="70" y="54" width="2" height="2" fill="#f72f40"/>
<rect x="72" y="54" width="2" height="2" fill="#ff4e40"/>
<rect x="74" y="54" width="4" height="2" fill="#ff6244"/>
<rect x="78" y="54" width="2" height="2" fill="#ff8755"/>
<rect x="80" y="54" width="2" height="2" fill="#ff9c60"/>
<rect x="82" y="54" width="2" height="2" fill="#ffc888"/>
<rect x="84" y="54" width="4" height="2" fill="#ffda9a"/>
<rect x="88" y="54" width="2" height="2" fill="#ffc888"/>
<rect x="90" y="54" width="2" height="2" fill="#feebaf"/>
<rect x="36" y="56" width="2" height="2" fill="#ffda9a"/>
<rect x="38" y="56" width="4" height="2" fill="#fff3c6"/>
<rect x="42" y="56" width="4" height="2" fill="#feebaf"/>
<rect x="46" y="56" width="2" height="2" fill="#fff3c6"/>
<rect x="48" y="56" width="2" height="2" fill="#feebaf"/>
<rect x="50" y="56" width="2" height="2" fill="#fff3c6"/>
<rect x="52" y="56" width="2" height="2" fill="#feebaf"/>
<rect x="54" y="56" width="2" height="2" fill="#ffc888"/>
<rect x="56" y="56" width="2" height="2" fill="#ffda9a"/>
<rect x="58" y="56" width="2" height="2" fill="#ffc888"/>
<rect x="60" y="56" width="6" height="2" fill="#ff8755"/>
<rect x="66" y="56" width="2" height="2" fill="#ff744d"/>
<rect x="68" y="56" width="2" height="2" fill="#ff6244"/>
<rect x="70" y="56" width="2" height="2" fill="#ff4e40"/>
<rect x="72" y="56" width="2" height="2" fill="#ff744d"/>
<rect x="74" y="56" width="2" height="2" fill="#ff6244"/>
<rect x="76" y="56" width="4" height="2" fill="#ff8755"/>
<rect x="80" y="56" width="2" height="2" fill="#ff9c60"/>
<rect x="82" y="56" width="2" height="2" fill="#ffc888"/>
<rect x="84" y="56" width="4" height="2" fill="#ffda9a"/>
<rect x="88" y="56" width="2" height="2" fill="#feebaf"/>
<rect x="90" y="56" width="2" height="2" fill="#ffda9a"/>
<rect x="36" y="58" width="4" height="2" fill="#fff7da"/>
<rect x="40" y="58" width="2" height="2" fill="#ffda9a"/>
<rect x="42" y="58" width="2" height="2" fill="#fff3c6"/>
<rect x="44" y="58" width="4" height="2" fill="#feebaf"/>
<rect x="48" y="58" width="4" height="2" fill="#fff3c6"/>
<rect x="52" y="58" width="4" height="2" fill="#ffc888"/>
<rect x="56" y="58" width="2" height="2" fill="#ffb474"/>
<rect x="58" y="58" width="2" height="2" fill="#ffda9a"/>
<rect x="60" y="58" width="2" height="2" fill="#ffc888"/>
<rect x="62" y="58" width="2" height="2" fill="#ff9c60"/>
<rect x="64" y="58" width="2" height="2" fill="#ff744d"/>
<rect x="66" y="58" width="2" height="2" fill="#ff8755"/>
<rect x="68" y="58" width="4" height="2" fill="#ff744d"/>
<rect x="72" y="58" width="2" height="2" fill="#ff9c60"/>
<rect x="74" y="58" width="2" height="2" fill="#ff8755"/>
<rect x="76" y="58" width="2" height="2" fill="#ff9c60"/>
<rect x="78" y="58" width="2" height="2" fill="#ffb474"/>
<rect x="80" y="58" width="2" height="2" fill="#ffc888"/>
<rect x="82" y="58" width="2" height="2" fill="#ffda9a"/>
<rect x="84" y="58" width="2" height="2" fill="#ffc888"/>
<rect x="86" y="58" width="4" height="2" fill="#ffda9a"/>
<rect x="90" y="58" width="2" height="2" fill="#feebaf"/>
<rect x="36" y="60" width="2" height="2" fill="#ffda9a"/>
<rect x="38" y="60" width="8" height="2" fill="#fff3c6"/>
<rect x="46" y="60" width="4" height="2" fill="#ffda9a"/>
<rect x="50" y="60" width="4" height="2" fill="#feebaf"/>
<rect x="54" y="60" width="4" height="2" fill="#ffda9a"/>
<rect x="58" y="60" width="2" height="2" fill="#ffc888"/>
<rect x="60" y="60" width="2" height="2" fill="#ffda9a"/>
<rect x="62" y="60" width="2" height="2" fill="#ffc888"/>
<rect x="64" y="60" width="4" height="2" fill="#ffb474"/>
<rect x="68" y="60" width="2" height="2" fill="#ff9c60"/>
<rect x="70" y="60" width="4" height="2" fill="#ffb474"/>
<rect x="74" y="60" width="2" height="2" fill="#ff9c60"/>
<rect x="76" y="60" width="2" height="2" fill="#ffc888"/>
<rect x="78" y="60" width="2" height="2" fill="#ffb474"/>
<rect x="80" y="60" width="4" height="2" fill="#ffc888"/>
<rect x="84" y="60" width="4" height="2" fill="#feebaf"/>
<rect x="88" y="60" width="2" height="2" fill="#ffda9a"/>
<rect x="90" y="60" width="2" height="2" fill="#fff3c6"/>
<rect x="36" y="62" width="2" height="2" fill="#ffda9a"/>
<rect x="38" y="62" width="2" height="2" fill="#fff3c6"/>
<rect x="40" y="62" width="2" height="2" fill="#feebaf"/>
<rect x="42" y="62" width="2" height="2" fill="#ffda9a"/>
<rect x="44" y="62" width="2" height="2" fill="#feebaf"/>
<rect x="46" y="62" width="4" height="2" fill="#fff3c6"/>
<rect x="50" y="62" width="2" height="2" fill="#feebaf"/>
<rect x="52" y="62" width="2" height="2" fill="#ffda9a"/>
<rect x="54" y="62" width="2" height="2" fill="#feebaf"/>
<rect x="56" y="62" width="2" height="2" fill="#ffc888"/>
<rect x="58" y="62" width="2" height="2" fill="#feebaf"/>
<rect x="60" y="62" width="2" height="2" fill="#ffc888"/>
<rect x="62" y="62" width="2" height="2" fill="#ffda9a"/>
<rect x="64" y="62" width="2" height="2" fill="#ffc888"/>
<rect x="66" y="62" width="4" height="2" fill="#ffb474"/>
<rect x="70" y="62" width="2" height="2" fill="#ff9c60"/>
<rect x="72" y="62" width="4" height="2" fill="#ffb474"/>
<rect x="76" y="62" width="2" height="2" fill="#ffc888"/>
<rect x="78" y="62" width="4" height="2" fill="#ffda9a"/>
<rect x="82" y="62" width="2" height="2" fill="#feebaf"/>
<rect x="84" y="62" width="4" height="2" fill="#ffda9a"/>
<rect x="88" y="62" width="4" height="2" fill="#fff3c6"/>
<rect x="36" y="64" width="2" height="2" fill="#ffda9a"/>
<rect x="38" y="64" width="8" height="2" fill="#feebaf"/>
<rect x="46" y="64" width="10" height="2" fill="#fff3c6"/>
<rect x="56" y="64" width="2" height="2" fill="#ffda9a"/>
<rect x="58" y="64" width="2" height="2" fill="#feebaf"/>
<rect x="60" y="64" width="2" height="2" fill="#ffda9a"/>
<rect x="62" y="64" width="2" height="2" fill="#feebaf"/>
<rect x="64" y="64" width="2" height="2" fill="#ffda9a"/>
<rect x="66" y="64" width="2" height="2" fill="#feebaf"/>
<rect x="68" y="64" width="4" height="2" fill="#ffda9a"/>
<rect x="72" y="64" width="2" height="2" fill="#ffc888"/>
<rect x="74" y="64" width="6" height="2" fill="#ffda9a"/>
<rect x="80" y="64" width="2" height="2" fill="#feebaf"/>
<rect x="82" y="64" width="2" height="2" fill="#fff3c6"/>
<rect x="84" y="64" width="8" height="2" fill="#feebaf"/>
<rect x="36" y="66" width="4" height="2" fill="#feebaf"/>
<rect x="40" y="66" width="2" height="2" fill="#fff3c6"/>
<rect x="42" y="66" width="2" height="2" fill="#feebaf"/>
<rect x="44" y="66" width="6" height="2" fill="#fff3c6"/>
<rect x="50" y="66" width="2" height="2" fill="#feebaf"/>
<rect x="52" y="66" width="4" height="2" fill="#ffda9a"/>
<rect x="56" y="66" width="2" height="2" fill="#fff3c6"/>
<rect x="58" y="66" width="2" height="2" fill="#feebaf"/>
<rect x="60" y="66" width="4" height="2" fill="#fff3c6"/>
<rect x="64" y="66" width="2" height="2" fill="#ffda9a"/>
<rect x="66" y="66" width="2" height="2" fill="#ffc888"/>
<rect x="68" y="66" width="2" height="2" fill="#feebaf"/>
<rect x="70" y="66" width="2" height="2" fill="#ffda9a"/>
<rect x="72" y="66" width="2" height="2" fill="#ffc888"/>
<rect x="74" y="66" width="2" height="2" fill="#feebaf"/>
<rect x="76" y="66" width="4" height="2" fill="#ffda9a"/>
<rect x="80" y="66" width="8" height="2" fill="#feebaf"/>
<rect x="88" y="66" width="4" height="2" fill="#ffda9a"/>
<rect x="36" y="68" width="2" height="2" fill="#ffda9a"/>
<rect x="38" y="68" width="2" height="2" fill="#feebaf"/>
<rect x="40" y="68" width="6" height="2" fill="#fff3c6"/>
<rect x="46" y="68" width="4" height="2" fill="#feebaf"/>
<rect x="50" y="68" width="2" height="2" fill="#fff3c6"/>
<rect x="52" y="68" width="4" height="2" fill="#feebaf"/>
<rect x="56" y="68" width="2" height="2" fill="#fff3c6"/>
<rect x="58" y="68" width="2" height="2" fill="#feebaf"/>
<rect x="60" y="68" width="2" height="2" fill="#fff3c6"/>
<rect x="62" y="68" width="2" height="2" fill="#ffda9a"/>
<rect x="64" y="68" width="2" height="2" fill="#fff3c6"/>
<rect x="66" y="68" width="6" height="2" fill="#ffda9a"/>
<rect x="72" y="68" width="2" height="2" fill="#feebaf"/>
<rect x="74" y="68" width="4" height="2" fill="#ffda9a"/>
<rect x="78" y="68" width="2" height="2" fill="#fff3c6"/>
<rect x="80" y="68" width="4" height="2" fill="#ffda9a"/>
<rect x="84" y="68" width="4" height="2" fill="#feebaf"/>
<rect x="88" y="68" width="2" height="2" fill="#fff3c6"/>
<rect x="90" y="68" width="2" height="2" fill="#ffda9a"/>
<rect x="36" y="70" width="2" height="2" fill="#ffda9a"/>
<rect x="38" y="70" width="2" height="2" fill="#fff3c6"/>
<rect x="40" y="70" width="2" height="2" fill="#feebaf"/>
<rect x="42" y="70" width="8" height="2" fill="#fff3c6"/>
<rect x="50" y="70" width="4" height="2" fill="#ffda9a"/>
<rect x="54" y="70" width="2" height="2" fill="#fff3c6"/>
<rect x="56" y="70" width="2" height="2" fill="#feebaf"/>
<rect x="58" y="70" width="8" height="2" fill="#fff3c6"/>
<rect x="66" y="70" width="2" height="2" fill="#feebaf"/>
<rect x="68" y="70" width="4" height="2" fill="#fff3c6"/>
<rect x="72" y="70" width="2" height="2" fill="#feebaf"/>
<rect x="74" y="70" width="2" height="2" fill="#fff3c6"/>
<rect x="76" y="70" width="4" height="2" fill="#feebaf"/>
<rect x="80" y="70" width="2" height="2" fill="#ffda9a"/>
<rect x="82" y="70" width="4" height="2" fill="#fff3c6"/>
<rect x="86" y="70" width="2" height="2" fill="#feebaf"/>
<rect x="88" y="70" width="2" height="2" fill="#fff3c6"/>
<rect x="90" y="70" width="2" height="2" fill="#feebaf"/>
<rect x="36" y="72" width="2" height="2" fill="#fff3c6"/>
<rect x="38" y="72" width="6" height="2" fill="#feebaf"/>
<rect x="44" y="72" width="2" height="2" fill="#ffda9a"/>
<rect x="46" y="72" width="2" height="2" fill="#feebaf"/>
<rect x="48" y="72" width="2" height="2" fill="#fff3c6"/>
<rect x="50" y="72" width="6" height="2" fill="#feebaf"/>
<rect x="56" y="72" width="6" height="2" fill="#fff3c6"/>
<rect x="62" y="72" width="2" height="2" fill="#feebaf"/>
<rect x="64" y="72" width="2" height="2" fill="#fff3c6"/>
<rect x="66" y="72" width="4" height="2" fill="#feebaf"/>
<rect x="70" y="72" width="2" height="2" fill="#ffda9a"/>
<rect x="72" y="72" width="2" height="2" fill="#feebaf"/>
<rect x="74" y="72" width="2" height="2" fill="#ffda9a"/>
<rect x="76" y="72" width="2" height="2" fill="#fff3c6"/>
<rect x="78" y="72" width="4" height="2" fill="#feebaf"/>
<rect x="82" y="72" width="2" height="2" fill="#fff3c6"/>
<rect x="84" y="72" width="2" height="2" fill="#feebaf"/>
<rect x="86" y="72" width="2" height="2" fill="#fff3c6"/>
<rect x="88" y="72" width="2" height="2" fill="#feebaf"/>
<rect x="90" y="72" width="2" height="2" fill="#fff7da"/>
<rect x="36" y="74" width="8" height="2" fill="#fff3c6"/>
<rect x="44" y="74" width="4" height="2" fill="#feebaf"/>
<rect x="48" y="74" width="2" height="2" fill="#fff3c6"/>
<rect x="50" y="74" width="2" height="2" fill="#feebaf"/>
<rect x="52" y="74" width="4" height="2" fill="#fff3c6"/>
<rect x="56" y="74" width="2" height="2" fill="#fff7da"/>
<rect x="58" y="74" width="2" height="2" fill="#fff3c6"/>
<rect x="60" y="74" width="8" height="2" fill="#feebaf"/>
<rect x="68" y="74" width="2" height="2" fill="#ffda9a"/>
<rect x="70" y="74" width="2" height="2" fill="#fff3c6"/>
<rect x="72" y="74" width="2" height="2" fill="#feebaf"/>
<rect x="74" y="74" width="2" height="2" fill="#fff3c6"/>
<rect x="76" y="74" width="2" height="2" fill="#feebaf"/>
<rect x="78" y="74" width="2" height="2" fill="#ffda9a"/>
<rect x="80" y="74" width="4" height="2" fill="#fff3c6"/>
<rect x="84" y="74" width="4" height="2" fill="#feebaf"/>
<rect x="88" y="74" width="2" height="2" fill="#fff3c6"/>
<rect x="90" y="74" width="2" height="2" fill="#fff7da"/>
</g>
<g transform="translate(0,0)"><use href="#city" fill="none" stroke="#000" stroke-width="0.95" stroke-linejoin="round"/></g>
<g transform="translate(107.3,0)" clip-path="url(#cityclip)">
<rect x="36" y="38" width="4" height="2" fill="#fff7da"/>
<rect x="40" y="38" width="4" height="2" fill="#fcffff"/>
<rect x="44" y="38" width="2" height="2" fill="#fff7da"/>
<rect x="46" y="38" width="4" height="2" fill="#fffcf1"/>
<rect x="50" y="38" width="2" height="2" fill="#fcffff"/>
<rect x="52" y="38" width="6" height="2" fill="#fffcf1"/>
<rect x="58" y="38" width="2" height="2" fill="#fcffff"/>
<rect x="60" y="38" width="4" height="2" fill="#fffcf1"/>
<rect x="64" y="38" width="6" height="2" fill="#fff7da"/>
<rect x="70" y="38" width="6" height="2" fill="#fffcf1"/>
<rect x="76" y="38" width="4" height="2" fill="#fcffff"/>
<rect x="80" y="38" width="2" height="2" fill="#fffcf1"/>
<rect x="82" y="38" width="4" height="2" fill="#fcffff"/>
<rect x="86" y="38" width="2" height="2" fill="#fff7da"/>
<rect x="88" y="38" width="4" height="2" fill="#fffcf1"/>
<rect x="36" y="40" width="8" height="2" fill="#fcffff"/>
<rect x="44" y="40" width="2" height="2" fill="#fffcf1"/>
<rect x="46" y="40" width="2" height="2" fill="#fff7da"/>
<rect x="48" y="40" width="2" height="2" fill="#fffcf1"/>
<rect x="50" y="40" width="2" height="2" fill="#fcffff"/>
<rect x="52" y="40" width="2" height="2" fill="#fff7da"/>
<rect x="54" y="40" width="4" height="2" fill="#fffcf1"/>
<rect x="58" y="40" width="6" height="2" fill="#fff7da"/>
<rect x="64" y="40" width="2" height="2" fill="#fffcf1"/>
<rect x="66" y="40" width="4" height="2" fill="#fff3c6"/>
<rect x="70" y="40" width="2" height="2" fill="#fffcf1"/>
<rect x="72" y="40" width="4" height="2" fill="#fff7da"/>
<rect x="76" y="40" width="6" height="2" fill="#fffcf1"/>
<rect x="82" y="40" width="2" height="2" fill="#fff7da"/>
<rect x="84" y="40" width="2" height="2" fill="#fffcf1"/>
<rect x="86" y="40" width="2" height="2" fill="#fff7da"/>
<rect x="88" y="40" width="2" height="2" fill="#fcffff"/>
<rect x="90" y="40" width="2" height="2" fill="#fff7da"/>
<rect x="36" y="42" width="2" height="2" fill="#fff7da"/>
<rect x="38" y="42" width="4" height="2" fill="#fffcf1"/>
<rect x="42" y="42" width="2" height="2" fill="#fff7da"/>
<rect x="44" y="42" width="4" height="2" fill="#fffcf1"/>
<rect x="48" y="42" width="4" height="2" fill="#fcffff"/>
<rect x="52" y="42" width="2" height="2" fill="#fffcf1"/>
<rect x="54" y="42" width="2" height="2" fill="#fcffff"/>
<rect x="56" y="42" width="2" height="2" fill="#fff7da"/>
<rect x="58" y="42" width="2" height="2" fill="#fcffff"/>
<rect x="60" y="42" width="2" height="2" fill="#fff7da"/>
<rect x="62" y="42" width="2" height="2" fill="#fffcf1"/>
<rect x="64" y="42" width="2" height="2" fill="#fff3c6"/>
<rect x="66" y="42" width="10" height="2" fill="#fff7da"/>
<rect x="76" y="42" width="6" height="2" fill="#fffcf1"/>
<rect x="82" y="42" width="2" height="2" fill="#fff7da"/>
<rect x="84" y="42" width="2" height="2" fill="#fffcf1"/>
<rect x="86" y="42" width="2" height="2" fill="#fcffff"/>
<rect x="88" y="42" width="4" height="2" fill="#fffcf1"/>
<rect x="36" y="44" width="2" height="2" fill="#fff7da"/>
<rect x="38" y="44" width="2" height="2" fill="#fcffff"/>
<rect x="40" y="44" width="2" height="2" fill="#fffcf1"/>
<rect x="42" y="44" width="2" height="2" fill="#fcffff"/>
<rect x="44" y="44" width="2" height="2" fill="#fffcf1"/>
<rect x="46" y="44" width="4" height="2" fill="#fcffff"/>
<rect x="50" y="44" width="2" height="2" fill="#fff7da"/>
<rect x="52" y="44" width="2" height="2" fill="#fcffff"/>
<rect x="54" y="44" width="2" height="2" fill="#fffcf1"/>
<rect x="56" y="44" width="2" height="2" fill="#fff7da"/>
<rect x="58" y="44" width="4" height="2" fill="#fffcf1"/>
<rect x="62" y="44" width="2" height="2" fill="#fff3c6"/>
<rect x="64" y="44" width="2" height="2" fill="#fff7da"/>
<rect x="66" y="44" width="2" height="2" fill="#fff3c6"/>
<rect x="68" y="44" width="6" height="2" fill="#fff7da"/>
<rect x="74" y="44" width="2" height="2" fill="#fff3c6"/>
<rect x="76" y="44" width="2" height="2" fill="#fffcf1"/>
<rect x="78" y="44" width="2" height="2" fill="#fff3c6"/>
<rect x="80" y="44" width="2" height="2" fill="#fcffff"/>
<rect x="82" y="44" width="2" height="2" fill="#fff7da"/>
<rect x="84" y="44" width="4" height="2" fill="#fcffff"/>
<rect x="88" y="44" width="2" height="2" fill="#fffcf1"/>
<rect x="90" y="44" width="2" height="2" fill="#fcffff"/>
<rect x="36" y="46" width="2" height="2" fill="#fcffff"/>
<rect x="38" y="46" width="2" height="2" fill="#fffcf1"/>
<rect x="40" y="46" width="4" height="2" fill="#fcffff"/>
<rect x="44" y="46" width="2" height="2" fill="#fff7da"/>
<rect x="46" y="46" width="6" height="2" fill="#fcffff"/>
<rect x="52" y="46" width="4" height="2" fill="#fffcf1"/>
<rect x="56" y="46" width="2" height="2" fill="#fcffff"/>
<rect x="58" y="46" width="4" height="2" fill="#fffcf1"/>
<rect x="62" y="46" width="2" height="2" fill="#fff7da"/>
<rect x="64" y="46" width="2" height="2" fill="#feebaf"/>
<rect x="66" y="46" width="2" height="2" fill="#ffda9a"/>
<rect x="68" y="46" width="2" height="2" fill="#ffc888"/>
<rect x="70" y="46" width="2" height="2" fill="#ffda9a"/>
<rect x="72" y="46" width="2" height="2" fill="#feebaf"/>
<rect x="74" y="46" width="2" height="2" fill="#fff3c6"/>
<rect x="76" y="46" width="2" height="2" fill="#fff7da"/>
<rect x="78" y="46" width="2" height="2" fill="#fffcf1"/>
<rect x="80" y="46" width="2" height="2" fill="#fff7da"/>
<rect x="82" y="46" width="2" height="2" fill="#fffcf1"/>
<rect x="84" y="46" width="2" height="2" fill="#fcffff"/>
<rect x="86" y="46" width="2" height="2" fill="#fffcf1"/>
<rect x="88" y="46" width="2" height="2" fill="#fff7da"/>
<rect x="90" y="46" width="2" height="2" fill="#fcffff"/>
<rect x="36" y="48" width="2" height="2" fill="#fffcf1"/>
<rect x="38" y="48" width="2" height="2" fill="#fcffff"/>
<rect x="40" y="48" width="2" height="2" fill="#fffcf1"/>
<rect x="42" y="48" width="2" height="2" fill="#fcffff"/>
<rect x="44" y="48" width="2" height="2" fill="#fff7da"/>
<rect x="46" y="48" width="2" height="2" fill="#fcffff"/>
<rect x="48" y="48" width="4" height="2" fill="#fffcf1"/>
<rect x="52" y="48" width="2" height="2" fill="#fcffff"/>
<rect x="54" y="48" width="2" height="2" fill="#fffcf1"/>
<rect x="56" y="48" width="4" height="2" fill="#fcffff"/>
<rect x="60" y="48" width="2" height="2" fill="#fffcf1"/>
<rect x="62" y="48" width="2" height="2" fill="#fff7da"/>
<rect x="64" y="48" width="2" height="2" fill="#feebaf"/>
<rect x="66" y="48" width="2" height="2" fill="#ff9c60"/>
<rect x="68" y="48" width="2" height="2" fill="#ff8755"/>
<rect x="70" y="48" width="2" height="2" fill="#ff9c60"/>
<rect x="72" y="48" width="2" height="2" fill="#ffc888"/>
<rect x="74" y="48" width="2" height="2" fill="#ffda9a"/>
<rect x="76" y="48" width="4" height="2" fill="#fff7da"/>
<rect x="80" y="48" width="6" height="2" fill="#fffcf1"/>
<rect x="86" y="48" width="2" height="2" fill="#fff7da"/>
<rect x="88" y="48" width="2" height="2" fill="#fffcf1"/>
<rect x="90" y="48" width="2" height="2" fill="#fcffff"/>
<rect x="36" y="50" width="4" height="2" fill="#fffcf1"/>
<rect x="40" y="50" width="8" height="2" fill="#fcffff"/>
<rect x="48" y="50" width="2" height="2" fill="#fffcf1"/>
<rect x="50" y="50" width="6" height="2" fill="#fcffff"/>
<rect x="56" y="50" width="4" height="2" fill="#fffcf1"/>
<rect x="60" y="50" width="2" height="2" fill="#fff7da"/>
<rect x="62" y="50" width="2" height="2" fill="#feebaf"/>
<rect x="64" y="50" width="2" height="2" fill="#ffb474"/>
<rect x="66" y="50" width="4" height="2" fill="#fe3740"/>
<rect x="70" y="50" width="2" height="2" fill="#ff6244"/>
<rect x="72" y="50" width="2" height="2" fill="#ffb474"/>
<rect x="74" y="50" width="2" height="2" fill="#feebaf"/>
<rect x="76" y="50" width="2" height="2" fill="#fff3c6"/>
<rect x="78" y="50" width="4" height="2" fill="#fff7da"/>
<rect x="82" y="50" width="2" height="2" fill="#fcffff"/>
<rect x="84" y="50" width="4" height="2" fill="#fffcf1"/>
<rect x="88" y="50" width="4" height="2" fill="#fcffff"/>
<rect x="36" y="52" width="2" height="2" fill="#fffcf1"/>
<rect x="38" y="52" width="2" height="2" fill="#fcffff"/>
<rect x="40" y="52" width="2" height="2" fill="#fffcf1"/>
<rect x="42" y="52" width="2" height="2" fill="#fff7da"/>
<rect x="44" y="52" width="2" height="2" fill="#fffcf1"/>
<rect x="46" y="52" width="2" height="2" fill="#fcffff"/>
<rect x="48" y="52" width="2" height="2" fill="#fff7da"/>
<rect x="50" y="52" width="4" height="2" fill="#fcffff"/>
<rect x="54" y="52" width="2" height="2" fill="#fffcf1"/>
<rect x="56" y="52" width="2" height="2" fill="#fcffff"/>
<rect x="58" y="52" width="2" height="2" fill="#fffcf1"/>
<rect x="60" y="52" width="2" height="2" fill="#fff3c6"/>
<rect x="62" y="52" width="2" height="2" fill="#feebaf"/>
<rect x="64" y="52" width="2" height="2" fill="#ffc888"/>
<rect x="66" y="52" width="2" height="2" fill="#ff4e40"/>
<rect x="68" y="52" width="2" height="2" fill="#f72f40"/>
<rect x="70" y="52" width="2" height="2" fill="#ff6244"/>
<rect x="72" y="52" width="2" height="2" fill="#ffc888"/>
<rect x="74" y="52" width="2" height="2" fill="#feebaf"/>
<rect x="76" y="52" width="4" height="2" fill="#fff7da"/>
<rect x="80" y="52" width="2" height="2" fill="#fffcf1"/>
<rect x="82" y="52" width="2" height="2" fill="#fff7da"/>
<rect x="84" y="52" width="2" height="2" fill="#fcffff"/>
<rect x="86" y="52" width="2" height="2" fill="#fffcf1"/>
<rect x="88" y="52" width="2" height="2" fill="#fcffff"/>
<rect x="90" y="52" width="2" height="2" fill="#fffcf1"/>
<rect x="36" y="54" width="2" height="2" fill="#fcffff"/>
<rect x="38" y="54" width="4" height="2" fill="#fffcf1"/>
<rect x="42" y="54" width="8" height="2" fill="#fcffff"/>
<rect x="50" y="54" width="2" height="2" fill="#fff7da"/>
<rect x="52" y="54" width="2" height="2" fill="#fffcf1"/>
<rect x="54" y="54" width="4" height="2" fill="#fff7da"/>
<rect x="58" y="54" width="2" height="2" fill="#fffcf1"/>
<rect x="60" y="54" width="2" height="2" fill="#fff3c6"/>
<rect x="62" y="54" width="2" height="2" fill="#feebaf"/>
<rect x="64" y="54" width="2" height="2" fill="#ffc888"/>
<rect x="66" y="54" width="4" height="2" fill="#ff8755"/>
<rect x="70" y="54" width="2" height="2" fill="#ff9c60"/>
<rect x="72" y="54" width="2" height="2" fill="#ffc888"/>
<rect x="74" y="54" width="2" height="2" fill="#feebaf"/>
<rect x="76" y="54" width="2" height="2" fill="#fff3c6"/>
<rect x="78" y="54" width="2" height="2" fill="#fff7da"/>
<rect x="80" y="54" width="2" height="2" fill="#fff3c6"/>
<rect x="82" y="54" width="6" height="2" fill="#fff7da"/>
<rect x="88" y="54" width="4" height="2" fill="#fcffff"/>
<rect x="36" y="56" width="2" height="2" fill="#fffcf1"/>
<rect x="38" y="56" width="2" height="2" fill="#fcffff"/>
<rect x="40" y="56" width="4" height="2" fill="#fffcf1"/>
<rect x="44" y="56" width="2" height="2" fill="#fff7da"/>
<rect x="46" y="56" width="4" height="2" fill="#fffcf1"/>
<rect x="50" y="56" width="4" height="2" fill="#fcffff"/>
<rect x="54" y="56" width="2" height="2" fill="#fff7da"/>
<rect x="56" y="56" width="2" height="2" fill="#fcffff"/>
<rect x="58" y="56" width="4" height="2" fill="#fffcf1"/>
<rect x="62" y="56" width="2" height="2" fill="#fff7da"/>
<rect x="64" y="56" width="2" height="2" fill="#ffda9a"/>
<rect x="66" y="56" width="4" height="2" fill="#ffc888"/>
<rect x="70" y="56" width="4" height="2" fill="#feebaf"/>
<rect x="74" y="56" width="6" height="2" fill="#fff3c6"/>
<rect x="80" y="56" width="2" height="2" fill="#fff7da"/>
<rect x="82" y="56" width="2" height="2" fill="#fffcf1"/>
<rect x="84" y="56" width="2" height="2" fill="#fcffff"/>
<rect x="86" y="56" width="2" height="2" fill="#fffcf1"/>
<rect x="88" y="56" width="2" height="2" fill="#fff7da"/>
<rect x="90" y="56" width="2" height="2" fill="#fffcf1"/>
<rect x="36" y="58" width="2" height="2" fill="#fcffff"/>
<rect x="38" y="58" width="4" height="2" fill="#fffcf1"/>
<rect x="42" y="58" width="2" height="2" fill="#fcffff"/>
<rect x="44" y="58" width="2" height="2" fill="#fff7da"/>
<rect x="46" y="58" width="6" height="2" fill="#fffcf1"/>
<rect x="52" y="58" width="4" height="2" fill="#fff7da"/>
<rect x="56" y="58" width="4" height="2" fill="#fffcf1"/>
<rect x="60" y="58" width="4" height="2" fill="#fff7da"/>
<rect x="64" y="58" width="2" height="2" fill="#feebaf"/>
<rect x="66" y="58" width="2" height="2" fill="#ffda9a"/>
<rect x="68" y="58" width="2" height="2" fill="#fff3c6"/>
<rect x="70" y="58" width="4" height="2" fill="#feebaf"/>
<rect x="74" y="58" width="6" height="2" fill="#fff3c6"/>
<rect x="80" y="58" width="2" height="2" fill="#fff7da"/>
<rect x="82" y="58" width="2" height="2" fill="#fffcf1"/>
<rect x="84" y="58" width="2" height="2" fill="#fff7da"/>
<rect x="86" y="58" width="2" height="2" fill="#fcffff"/>
<rect x="88" y="58" width="4" height="2" fill="#fffcf1"/>
<rect x="36" y="60" width="2" height="2" fill="#fffcf1"/>
<rect x="38" y="60" width="2" height="2" fill="#fff7da"/>
<rect x="40" y="60" width="2" height="2" fill="#fcffff"/>
<rect x="42" y="60" width="2" height="2" fill="#fffcf1"/>
<rect x="44" y="60" width="2" height="2" fill="#fcffff"/>
<rect x="46" y="60" width="2" height="2" fill="#fffcf1"/>
<rect x="48" y="60" width="2" height="2" fill="#fff7da"/>
<rect x="50" y="60" width="2" height="2" fill="#fffcf1"/>
<rect x="52" y="60" width="2" height="2" fill="#fcffff"/>
<rect x="54" y="60" width="2" height="2" fill="#fffcf1"/>
<rect x="56" y="60" width="6" height="2" fill="#fff7da"/>
<rect x="62" y="60" width="2" height="2" fill="#fff3c6"/>
<rect x="64" y="60" width="2" height="2" fill="#fff7da"/>
<rect x="66" y="60" width="10" height="2" fill="#feebaf"/>
<rect x="76" y="60" width="2" height="2" fill="#fffcf1"/>
<rect x="78" y="60" width="2" height="2" fill="#fff3c6"/>
<rect x="80" y="60" width="2" height="2" fill="#fff7da"/>
<rect x="82" y="60" width="2" height="2" fill="#fcffff"/>
<rect x="84" y="60" width="4" height="2" fill="#fffcf1"/>
<rect x="88" y="60" width="2" height="2" fill="#fcffff"/>
<rect x="90" y="60" width="2" height="2" fill="#fffcf1"/>
<rect x="36" y="62" width="2" height="2" fill="#fcffff"/>
<rect x="38" y="62" width="4" height="2" fill="#fffcf1"/>
<rect x="42" y="62" width="2" height="2" fill="#fcffff"/>
<rect x="44" y="62" width="4" height="2" fill="#fffcf1"/>
<rect x="48" y="62" width="2" height="2" fill="#fcffff"/>
<rect x="50" y="62" width="2" height="2" fill="#fff7da"/>
<rect x="52" y="62" width="4" height="2" fill="#fcffff"/>
<rect x="56" y="62" width="2" height="2" fill="#fffcf1"/>
<rect x="58" y="62" width="8" height="2" fill="#fff7da"/>
<rect x="66" y="62" width="2" height="2" fill="#fff3c6"/>
<rect x="68" y="62" width="4" height="2" fill="#fff7da"/>
<rect x="72" y="62" width="2" height="2" fill="#fff3c6"/>
<rect x="74" y="62" width="4" height="2" fill="#fffcf1"/>
<rect x="78" y="62" width="2" height="2" fill="#fff7da"/>
<rect x="80" y="62" width="2" height="2" fill="#fcffff"/>
<rect x="82" y="62" width="4" height="2" fill="#fff7da"/>
<rect x="86" y="62" width="6" height="2" fill="#fffcf1"/>
<rect x="36" y="64" width="2" height="2" fill="#fff7da"/>
<rect x="38" y="64" width="6" height="2" fill="#fcffff"/>
<rect x="44" y="64" width="2" height="2" fill="#fffcf1"/>
<rect x="46" y="64" width="4" height="2" fill="#fcffff"/>
<rect x="50" y="64" width="2" height="2" fill="#fffcf1"/>
<rect x="52" y="64" width="2" height="2" fill="#fff7da"/>
<rect x="54" y="64" width="2" height="2" fill="#fcffff"/>
<rect x="56" y="64" width="6" height="2" fill="#fffcf1"/>
<rect x="62" y="64" width="2" height="2" fill="#fff7da"/>
<rect x="64" y="64" width="2" height="2" fill="#fffcf1"/>
<rect x="66" y="64" width="6" height="2" fill="#fff7da"/>
<rect x="72" y="64" width="2" height="2" fill="#fff3c6"/>
<rect x="74" y="64" width="2" height="2" fill="#fffcf1"/>
<rect x="76" y="64" width="2" height="2" fill="#fff7da"/>
<rect x="78" y="64" width="4" height="2" fill="#fffcf1"/>
<rect x="82" y="64" width="2" height="2" fill="#fff7da"/>
<rect x="84" y="64" width="2" height="2" fill="#fffcf1"/>
<rect x="86" y="64" width="2" height="2" fill="#fcffff"/>
<rect x="88" y="64" width="2" height="2" fill="#fff7da"/>
<rect x="90" y="64" width="2" height="2" fill="#fcffff"/>
<rect x="36" y="66" width="2" height="2" fill="#fffcf1"/>
<rect x="38" y="66" width="2" height="2" fill="#fcffff"/>
<rect x="40" y="66" width="2" height="2" fill="#fffcf1"/>
<rect x="42" y="66" width="2" height="2" fill="#fff7da"/>
<rect x="44" y="66" width="4" height="2" fill="#fffcf1"/>
<rect x="48" y="66" width="4" height="2" fill="#fcffff"/>
<rect x="52" y="66" width="2" height="2" fill="#fffcf1"/>
<rect x="54" y="66" width="4" height="2" fill="#fcffff"/>
<rect x="58" y="66" width="2" height="2" fill="#fff7da"/>
<rect x="60" y="66" width="2" height="2" fill="#fcffff"/>
<rect x="62" y="66" width="2" height="2" fill="#fff7da"/>
<rect x="64" y="66" width="16" height="2" fill="#fffcf1"/>
<rect x="80" y="66" width="4" height="2" fill="#fff7da"/>
<rect x="84" y="66" width="4" height="2" fill="#fffcf1"/>
<rect x="88" y="66" width="2" height="2" fill="#fff7da"/>
<rect x="90" y="66" width="2" height="2" fill="#fcffff"/>
<rect x="36" y="68" width="6" height="2" fill="#fcffff"/>
<rect x="42" y="68" width="2" height="2" fill="#fffcf1"/>
<rect x="44" y="68" width="4" height="2" fill="#fcffff"/>
<rect x="48" y="68" width="2" height="2" fill="#fffcf1"/>
<rect x="50" y="68" width="2" height="2" fill="#fcffff"/>
<rect x="52" y="68" width="6" height="2" fill="#fffcf1"/>
<rect x="58" y="68" width="2" height="2" fill="#fff7da"/>
<rect x="60" y="68" width="2" height="2" fill="#fffcf1"/>
<rect x="62" y="68" width="4" height="2" fill="#fff7da"/>
<rect x="66" y="68" width="2" height="2" fill="#fffcf1"/>
<rect x="68" y="68" width="12" height="2" fill="#fff7da"/>
<rect x="80" y="68" width="2" height="2" fill="#fffcf1"/>
<rect x="82" y="68" width="2" height="2" fill="#fff7da"/>
<rect x="84" y="68" width="2" height="2" fill="#fcffff"/>
<rect x="86" y="68" width="4" height="2" fill="#fffcf1"/>
<rect x="90" y="68" width="2" height="2" fill="#fcffff"/>
<rect x="36" y="70" width="4" height="2" fill="#fcffff"/>
<rect x="40" y="70" width="2" height="2" fill="#fff7da"/>
<rect x="42" y="70" width="2" height="2" fill="#fcffff"/>
<rect x="44" y="70" width="2" height="2" fill="#fffcf1"/>
<rect x="46" y="70" width="2" height="2" fill="#fff7da"/>
<rect x="48" y="70" width="2" height="2" fill="#fcffff"/>
<rect x="50" y="70" width="2" height="2" fill="#fff7da"/>
<rect x="52" y="70" width="8" height="2" fill="#fcffff"/>
<rect x="60" y="70" width="6" height="2" fill="#fff7da"/>
<rect x="66" y="70" width="4" height="2" fill="#fffcf1"/>
<rect x="70" y="70" width="2" height="2" fill="#fcffff"/>
<rect x="72" y="70" width="2" height="2" fill="#fff7da"/>
<rect x="74" y="70" width="2" height="2" fill="#fffcf1"/>
<rect x="76" y="70" width="2" height="2" fill="#fcffff"/>
<rect x="78" y="70" width="2" height="2" fill="#fffcf1"/>
<rect x="80" y="70" width="4" height="2" fill="#fcffff"/>
<rect x="84" y="70" width="2" height="2" fill="#fff7da"/>
<rect x="86" y="70" width="6" height="2" fill="#fcffff"/>
<rect x="36" y="72" width="2" height="2" fill="#fcffff"/>
<rect x="38" y="72" width="2" height="2" fill="#fffcf1"/>
<rect x="40" y="72" width="8" height="2" fill="#fcffff"/>
<rect x="48" y="72" width="2" height="2" fill="#fffcf1"/>
<rect x="50" y="72" width="4" height="2" fill="#fcffff"/>
<rect x="54" y="72" width="2" height="2" fill="#fffcf1"/>
<rect x="56" y="72" width="4" height="2" fill="#fcffff"/>
<rect x="60" y="72" width="2" height="2" fill="#fff7da"/>
<rect x="62" y="72" width="4" height="2" fill="#fffcf1"/>
<rect x="66" y="72" width="2" height="2" fill="#fcffff"/>
<rect x="68" y="72" width="2" height="2" fill="#fffcf1"/>
<rect x="70" y="72" width="2" height="2" fill="#fff7da"/>
<rect x="72" y="72" width="2" height="2" fill="#fcffff"/>
<rect x="74" y="72" width="4" height="2" fill="#fffcf1"/>
<rect x="78" y="72" width="2" height="2" fill="#fcffff"/>
<rect x="80" y="72" width="2" height="2" fill="#fff7da"/>
<rect x="82" y="72" width="2" height="2" fill="#fcffff"/>
<rect x="84" y="72" width="4" height="2" fill="#fffcf1"/>
<rect x="88" y="72" width="2" height="2" fill="#fcffff"/>
<rect x="90" y="72" width="2" height="2" fill="#fff7da"/>
<rect x="36" y="74" width="6" height="2" fill="#fffcf1"/>
<rect x="42" y="74" width="6" height="2" fill="#fff7da"/>
<rect x="48" y="74" width="2" height="2" fill="#fffcf1"/>
<rect x="50" y="74" width="2" height="2" fill="#fcffff"/>
<rect x="52" y="74" width="2" height="2" fill="#fffcf1"/>
<rect x="54" y="74" width="4" height="2" fill="#fcffff"/>
<rect x="58" y="74" width="2" height="2" fill="#fff7da"/>
<rect x="60" y="74" width="2" height="2" fill="#fcffff"/>
<rect x="62" y="74" width="2" height="2" fill="#fff7da"/>
<rect x="64" y="74" width="2" height="2" fill="#fffcf1"/>
<rect x="66" y="74" width="2" height="2" fill="#fff7da"/>
<rect x="68" y="74" width="4" height="2" fill="#fcffff"/>
<rect x="72" y="74" width="2" height="2" fill="#fffcf1"/>
<rect x="74" y="74" width="10" height="2" fill="#fcffff"/>
<rect x="84" y="74" width="2" height="2" fill="#fffcf1"/>
<rect x="86" y="74" width="2" height="2" fill="#fcffff"/>
<rect x="88" y="74" width="2" height="2" fill="#fff7da"/>
<rect x="90" y="74" width="2" height="2" fill="#fffcf1"/>
</g>
<g transform="translate(107.3,0)"><use href="#city" fill="none" stroke="#000" stroke-width="0.95" stroke-linejoin="round"/></g>
<g transform="translate(303.9,0)" clip-path="url(#cityclip)">
<rect x="36" y="38" width="2" height="2" fill="#1355f2"/>
<rect x="38" y="38" width="8" height="2" fill="#1c67fb"/>
<rect x="46" y="38" width="4" height="2" fill="#1355f2"/>
<rect x="50" y="38" width="2" height="2" fill="#1c67fb"/>
<rect x="52" y="38" width="4" height="2" fill="#1355f2"/>
<rect x="56" y="38" width="2" height="2" fill="#1c67fb"/>
<rect x="58" y="38" width="2" height="2" fill="#1355f2"/>
<rect x="60" y="38" width="2" height="2" fill="#1c67fb"/>
<rect x="62" y="38" width="4" height="2" fill="#1355f2"/>
<rect x="66" y="38" width="2" height="2" fill="#0d40ed"/>
<rect x="68" y="38" width="10" height="2" fill="#1355f2"/>
<rect x="78" y="38" width="2" height="2" fill="#0d40ed"/>
<rect x="80" y="38" width="4" height="2" fill="#1c67fb"/>
<rect x="84" y="38" width="4" height="2" fill="#1355f2"/>
<rect x="88" y="38" width="4" height="2" fill="#1c67fb"/>
<rect x="36" y="40" width="2" height="2" fill="#1c67fb"/>
<rect x="38" y="40" width="2" height="2" fill="#2479ff"/>
<rect x="40" y="40" width="2" height="2" fill="#1c67fb"/>
<rect x="42" y="40" width="2" height="2" fill="#2479ff"/>
<rect x="44" y="40" width="6" height="2" fill="#1c67fb"/>
<rect x="50" y="40" width="2" height="2" fill="#2479ff"/>
<rect x="52" y="40" width="2" height="2" fill="#1c67fb"/>
<rect x="54" y="40" width="2" height="2" fill="#1355f2"/>
<rect x="56" y="40" width="4" height="2" fill="#0d40ed"/>
<rect x="60" y="40" width="2" height="2" fill="#1c67fb"/>
<rect x="62" y="40" width="2" height="2" fill="#0d40ed"/>
<rect x="64" y="40" width="2" height="2" fill="#1355f2"/>
<rect x="66" y="40" width="8" height="2" fill="#0d40ed"/>
<rect x="74" y="40" width="4" height="2" fill="#1355f2"/>
<rect x="78" y="40" width="2" height="2" fill="#1c67fb"/>
<rect x="80" y="40" width="2" height="2" fill="#1355f2"/>
<rect x="82" y="40" width="8" height="2" fill="#1c67fb"/>
<rect x="90" y="40" width="2" height="2" fill="#1355f2"/>
<rect x="36" y="42" width="6" height="2" fill="#2479ff"/>
<rect x="42" y="42" width="4" height="2" fill="#1c67fb"/>
<rect x="46" y="42" width="2" height="2" fill="#1355f2"/>
<rect x="48" y="42" width="4" height="2" fill="#1c67fb"/>
<rect x="52" y="42" width="2" height="2" fill="#1355f2"/>
<rect x="54" y="42" width="2" height="2" fill="#0d40ed"/>
<rect x="56" y="42" width="4" height="2" fill="#1c67fb"/>
<rect x="60" y="42" width="2" height="2" fill="#0d40ed"/>
<rect x="62" y="42" width="2" height="2" fill="#1355f2"/>
<rect x="64" y="42" width="2" height="2" fill="#0d40ed"/>
<rect x="66" y="42" width="4" height="2" fill="#082ae8"/>
<rect x="70" y="42" width="2" height="2" fill="#0d40ed"/>
<rect x="72" y="42" width="2" height="2" fill="#1355f2"/>
<rect x="74" y="42" width="2" height="2" fill="#082ae8"/>
<rect x="76" y="42" width="4" height="2" fill="#0d40ed"/>
<rect x="80" y="42" width="4" height="2" fill="#1355f2"/>
<rect x="84" y="42" width="6" height="2" fill="#1c67fb"/>
<rect x="90" y="42" width="2" height="2" fill="#2479ff"/>
<rect x="36" y="44" width="2" height="2" fill="#1c67fb"/>
<rect x="38" y="44" width="2" height="2" fill="#1355f2"/>
<rect x="40" y="44" width="2" height="2" fill="#1c67fb"/>
<rect x="42" y="44" width="4" height="2" fill="#1355f2"/>
<rect x="46" y="44" width="4" height="2" fill="#1c67fb"/>
<rect x="50" y="44" width="2" height="2" fill="#1355f2"/>
<rect x="52" y="44" width="2" height="2" fill="#0d40ed"/>
<rect x="54" y="44" width="2" height="2" fill="#1c67fb"/>
<rect x="56" y="44" width="2" height="2" fill="#0d40ed"/>
<rect x="58" y="44" width="4" height="2" fill="#1355f2"/>
<rect x="62" y="44" width="2" height="2" fill="#0d40ed"/>
<rect x="64" y="44" width="4" height="2" fill="#082ae8"/>
<rect x="68" y="44" width="2" height="2" fill="#0d40ed"/>
<rect x="70" y="44" width="4" height="2" fill="#082ae8"/>
<rect x="74" y="44" width="2" height="2" fill="#0d40ed"/>
<rect x="76" y="44" width="2" height="2" fill="#1355f2"/>
<rect x="78" y="44" width="4" height="2" fill="#0d40ed"/>
<rect x="82" y="44" width="6" height="2" fill="#1355f2"/>
<rect x="88" y="44" width="4" height="2" fill="#1c67fb"/>
<rect x="36" y="46" width="2" height="2" fill="#1c67fb"/>
<rect x="38" y="46" width="2" height="2" fill="#1355f2"/>
<rect x="40" y="46" width="4" height="2" fill="#1c67fb"/>
<rect x="44" y="46" width="2" height="2" fill="#1355f2"/>
<rect x="46" y="46" width="4" height="2" fill="#1c67fb"/>
<rect x="50" y="46" width="2" height="2" fill="#0d40ed"/>
<rect x="52" y="46" width="6" height="2" fill="#1355f2"/>
<rect x="58" y="46" width="6" height="2" fill="#0d40ed"/>
<rect x="64" y="46" width="4" height="2" fill="#0816df"/>
<rect x="68" y="46" width="2" height="2" fill="#082ae8"/>
<rect x="70" y="46" width="2" height="2" fill="#0d40ed"/>
<rect x="72" y="46" width="2" height="2" fill="#0816df"/>
<rect x="74" y="46" width="2" height="2" fill="#082ae8"/>
<rect x="76" y="46" width="2" height="2" fill="#0d40ed"/>
<rect x="78" y="46" width="2" height="2" fill="#082ae8"/>
<rect x="80" y="46" width="4" height="2" fill="#0d40ed"/>
<rect x="84" y="46" width="8" height="2" fill="#1355f2"/>
<rect x="36" y="48" width="2" height="2" fill="#1c67fb"/>
<rect x="38" y="48" width="2" height="2" fill="#1355f2"/>
<rect x="40" y="48" width="4" height="2" fill="#1c67fb"/>
<rect x="44" y="48" width="4" height="2" fill="#1355f2"/>
<rect x="48" y="48" width="2" height="2" fill="#1c67fb"/>
<rect x="50" y="48" width="2" height="2" fill="#1355f2"/>
<rect x="52" y="48" width="2" height="2" fill="#0d40ed"/>
<rect x="54" y="48" width="4" height="2" fill="#1355f2"/>
<rect x="58" y="48" width="8" height="2" fill="#082ae8"/>
<rect x="66" y="48" width="2" height="2" fill="#0816df"/>
<rect x="68" y="48" width="2" height="2" fill="#082ae8"/>
<rect x="70" y="48" width="4" height="2" fill="#0816df"/>
<rect x="74" y="48" width="2" height="2" fill="#082ae8"/>
<rect x="76" y="48" width="2" height="2" fill="#0d40ed"/>
<rect x="78" y="48" width="4" height="2" fill="#082ae8"/>
<rect x="82" y="48" width="2" height="2" fill="#0d40ed"/>
<rect x="84" y="48" width="2" height="2" fill="#1355f2"/>
<rect x="86" y="48" width="2" height="2" fill="#0d40ed"/>
<rect x="88" y="48" width="4" height="2" fill="#1c67fb"/>
<rect x="36" y="50" width="4" height="2" fill="#1355f2"/>
<rect x="40" y="50" width="6" height="2" fill="#1c67fb"/>
<rect x="46" y="50" width="6" height="2" fill="#1355f2"/>
<rect x="52" y="50" width="2" height="2" fill="#1c67fb"/>
<rect x="54" y="50" width="6" height="2" fill="#0d40ed"/>
<rect x="60" y="50" width="6" height="2" fill="#082ae8"/>
<rect x="66" y="50" width="4" height="2" fill="#0e06ce"/>
<rect x="70" y="50" width="8" height="2" fill="#082ae8"/>
<rect x="78" y="50" width="2" height="2" fill="#0d40ed"/>
<rect x="80" y="50" width="2" height="2" fill="#1355f2"/>
<rect x="82" y="50" width="2" height="2" fill="#0d40ed"/>
<rect x="84" y="50" width="2" height="2" fill="#1355f2"/>
<rect x="86" y="50" width="6" height="2" fill="#1c67fb"/>
<rect x="36" y="52" width="2" height="2" fill="#1355f2"/>
<rect x="38" y="52" width="2" height="2" fill="#1c67fb"/>
<rect x="40" y="52" width="4" height="2" fill="#1355f2"/>
<rect x="44" y="52" width="2" height="2" fill="#1c67fb"/>
<rect x="46" y="52" width="2" height="2" fill="#1355f2"/>
<rect x="48" y="52" width="2" height="2" fill="#1c67fb"/>
<rect x="50" y="52" width="2" height="2" fill="#0d40ed"/>
<rect x="52" y="52" width="2" height="2" fill="#1c67fb"/>
<rect x="54" y="52" width="6" height="2" fill="#1355f2"/>
<rect x="60" y="52" width="2" height="2" fill="#0d40ed"/>
<rect x="62" y="52" width="2" height="2" fill="#082ae8"/>
<rect x="64" y="52" width="2" height="2" fill="#0e06ce"/>
<rect x="66" y="52" width="2" height="2" fill="#082ae8"/>
<rect x="68" y="52" width="2" height="2" fill="#0e06ce"/>
<rect x="70" y="52" width="6" height="2" fill="#0816df"/>
<rect x="76" y="52" width="2" height="2" fill="#082ae8"/>
<rect x="78" y="52" width="8" height="2" fill="#0d40ed"/>
<rect x="86" y="52" width="2" height="2" fill="#1c67fb"/>
<rect x="88" y="52" width="2" height="2" fill="#1355f2"/>
<rect x="90" y="52" width="2" height="2" fill="#1c67fb"/>
<rect x="36" y="54" width="2" height="2" fill="#1c67fb"/>
<rect x="38" y="54" width="2" height="2" fill="#1355f2"/>
<rect x="40" y="54" width="4" height="2" fill="#1c67fb"/>
<rect x="44" y="54" width="2" height="2" fill="#1355f2"/>
<rect x="46" y="54" width="8" height="2" fill="#1c67fb"/>
<rect x="54" y="54" width="6" height="2" fill="#0d40ed"/>
<rect x="60" y="54" width="12" height="2" fill="#0816df"/>
<rect x="72" y="54" width="2" height="2" fill="#082ae8"/>
<rect x="74" y="54" width="2" height="2" fill="#0e06ce"/>
<rect x="76" y="54" width="2" height="2" fill="#0816df"/>
<rect x="78" y="54" width="6" height="2" fill="#082ae8"/>
<rect x="84" y="54" width="4" height="2" fill="#1c67fb"/>
<rect x="88" y="54" width="2" height="2" fill="#0d40ed"/>
<rect x="90" y="54" width="2" height="2" fill="#1355f2"/>
<rect x="36" y="56" width="2" height="2" fill="#1c67fb"/>
<rect x="38" y="56" width="2" height="2" fill="#1355f2"/>
<rect x="40" y="56" width="6" height="2" fill="#1c67fb"/>
<rect x="46" y="56" width="6" height="2" fill="#1355f2"/>
<rect x="52" y="56" width="2" height="2" fill="#0d40ed"/>
<rect x="54" y="56" width="4" height="2" fill="#1355f2"/>
<rect x="58" y="56" width="2" height="2" fill="#0d40ed"/>
<rect x="60" y="56" width="2" height="2" fill="#082ae8"/>
<rect x="62" y="56" width="4" height="2" fill="#0816df"/>
<rect x="66" y="56" width="4" height="2" fill="#082ae8"/>
<rect x="70" y="56" width="2" height="2" fill="#0816df"/>
<rect x="72" y="56" width="8" height="2" fill="#082ae8"/>
<rect x="80" y="56" width="2" height="2" fill="#0d40ed"/>
<rect x="82" y="56" width="10" height="2" fill="#1355f2"/>
<rect x="36" y="58" width="4" height="2" fill="#1c67fb"/>
<rect x="40" y="58" width="2" height="2" fill="#1355f2"/>
<rect x="42" y="58" width="8" height="2" fill="#1c67fb"/>
<rect x="50" y="58" width="2" height="2" fill="#1355f2"/>
<rect x="52" y="58" width="2" height="2" fill="#1c67fb"/>
<rect x="54" y="58" width="2" height="2" fill="#1355f2"/>
<rect x="56" y="58" width="4" height="2" fill="#0d40ed"/>
<rect x="60" y="58" width="2" height="2" fill="#082ae8"/>
<rect x="62" y="58" width="2" height="2" fill="#0d40ed"/>
<rect x="64" y="58" width="2" height="2" fill="#082ae8"/>
<rect x="66" y="58" width="2" height="2" fill="#0d40ed"/>
<rect x="68" y="58" width="10" height="2" fill="#082ae8"/>
<rect x="78" y="58" width="2" height="2" fill="#0d40ed"/>
<rect x="80" y="58" width="2" height="2" fill="#082ae8"/>
<rect x="82" y="58" width="2" height="2" fill="#0d40ed"/>
<rect x="84" y="58" width="2" height="2" fill="#1355f2"/>
<rect x="86" y="58" width="2" height="2" fill="#0d40ed"/>
<rect x="88" y="58" width="4" height="2" fill="#1355f2"/>
<rect x="36" y="60" width="2" height="2" fill="#2479ff"/>
<rect x="38" y="60" width="4" height="2" fill="#1355f2"/>
<rect x="42" y="60" width="2" height="2" fill="#2479ff"/>
<rect x="44" y="60" width="2" height="2" fill="#1355f2"/>
<rect x="46" y="60" width="8" height="2" fill="#1c67fb"/>
<rect x="54" y="60" width="4" height="2" fill="#1355f2"/>
<rect x="58" y="60" width="2" height="2" fill="#0d40ed"/>
<rect x="60" y="60" width="2" height="2" fill="#1355f2"/>
<rect x="62" y="60" width="4" height="2" fill="#0d40ed"/>
<rect x="66" y="60" width="2" height="2" fill="#082ae8"/>
<rect x="68" y="60" width="4" height="2" fill="#0d40ed"/>
<rect x="72" y="60" width="2" height="2" fill="#0816df"/>
<rect x="74" y="60" width="2" height="2" fill="#082ae8"/>
<rect x="76" y="60" width="2" height="2" fill="#0d40ed"/>
<rect x="78" y="60" width="2" height="2" fill="#1355f2"/>
<rect x="80" y="60" width="4" height="2" fill="#0d40ed"/>
<rect x="84" y="60" width="4" height="2" fill="#1355f2"/>
<rect x="88" y="60" width="2" height="2" fill="#1c67fb"/>
<rect x="90" y="60" width="2" height="2" fill="#1355f2"/>
<rect x="36" y="62" width="8" height="2" fill="#1c67fb"/>
<rect x="44" y="62" width="2" height="2" fill="#1355f2"/>
<rect x="46" y="62" width="2" height="2" fill="#1c67fb"/>
<rect x="48" y="62" width="2" height="2" fill="#2479ff"/>
<rect x="50" y="62" width="2" height="2" fill="#1355f2"/>
<rect x="52" y="62" width="2" height="2" fill="#1c67fb"/>
<rect x="54" y="62" width="8" height="2" fill="#1355f2"/>
<rect x="62" y="62" width="6" height="2" fill="#0d40ed"/>
<rect x="68" y="62" width="2" height="2" fill="#1355f2"/>
<rect x="70" y="62" width="4" height="2" fill="#082ae8"/>
<rect x="74" y="62" width="2" height="2" fill="#0d40ed"/>
<rect x="76" y="62" width="2" height="2" fill="#1355f2"/>
<rect x="78" y="62" width="2" height="2" fill="#0d40ed"/>
<rect x="80" y="62" width="10" height="2" fill="#1355f2"/>
<rect x="90" y="62" width="2" height="2" fill="#1c67fb"/>
<rect x="36" y="64" width="2" height="2" fill="#1c67fb"/>
<rect x="38" y="64" width="2" height="2" fill="#1355f2"/>
<rect x="40" y="64" width="2" height="2" fill="#1c67fb"/>
<rect x="42" y="64" width="2" height="2" fill="#2479ff"/>
<rect x="44" y="64" width="2" height="2" fill="#1355f2"/>
<rect x="46" y="64" width="8" height="2" fill="#1c67fb"/>
<rect x="54" y="64" width="4" height="2" fill="#1355f2"/>
<rect x="58" y="64" width="2" height="2" fill="#0d40ed"/>
<rect x="60" y="64" width="2" height="2" fill="#1355f2"/>
<rect x="62" y="64" width="8" height="2" fill="#0d40ed"/>
<rect x="70" y="64" width="2" height="2" fill="#1355f2"/>
<rect x="72" y="64" width="2" height="2" fill="#0d40ed"/>
<rect x="74" y="64" width="8" height="2" fill="#1355f2"/>
<rect x="82" y="64" width="10" height="2" fill="#1c67fb"/>
<rect x="36" y="66" width="2" height="2" fill="#2479ff"/>
<rect x="38" y="66" width="4" height="2" fill="#1c67fb"/>
<rect x="42" y="66" width="2" height="2" fill="#2479ff"/>
<rect x="44" y="66" width="2" height="2" fill="#1c67fb"/>
<rect x="46" y="66" width="4" height="2" fill="#1355f2"/>
<rect x="50" y="66" width="8" height="2" fill="#1c67fb"/>
<rect x="58" y="66" width="2" height="2" fill="#1355f2"/>
<rect x="60" y="66" width="6" height="2" fill="#0d40ed"/>
<rect x="66" y="66" width="4" height="2" fill="#1355f2"/>
<rect x="70" y="66" width="2" height="2" fill="#1c67fb"/>
<rect x="72" y="66" width="2" height="2" fill="#0d40ed"/>
<rect x="74" y="66" width="2" height="2" fill="#1c67fb"/>
<rect x="76" y="66" width="4" height="2" fill="#1355f2"/>
<rect x="80" y="66" width="2" height="2" fill="#1c67fb"/>
<rect x="82" y="66" width="4" height="2" fill="#1355f2"/>
<rect x="86" y="66" width="2" height="2" fill="#1c67fb"/>
<rect x="88" y="66" width="4" height="2" fill="#1355f2"/>
<rect x="36" y="68" width="4" height="2" fill="#1c67fb"/>
<rect x="40" y="68" width="2" height="2" fill="#1355f2"/>
<rect x="42" y="68" width="6" height="2" fill="#1c67fb"/>
<rect x="48" y="68" width="2" height="2" fill="#1355f2"/>
<rect x="50" y="68" width="2" height="2" fill="#1c67fb"/>
<rect x="52" y="68" width="2" height="2" fill="#2479ff"/>
<rect x="54" y="68" width="2" height="2" fill="#1355f2"/>
<rect x="56" y="68" width="2" height="2" fill="#1c67fb"/>
<rect x="58" y="68" width="4" height="2" fill="#1355f2"/>
<rect x="62" y="68" width="2" height="2" fill="#1c67fb"/>
<rect x="64" y="68" width="2" height="2" fill="#0d40ed"/>
<rect x="66" y="68" width="4" height="2" fill="#1c67fb"/>
<rect x="70" y="68" width="2" height="2" fill="#0d40ed"/>
<rect x="72" y="68" width="2" height="2" fill="#1c67fb"/>
<rect x="74" y="68" width="2" height="2" fill="#1355f2"/>
<rect x="76" y="68" width="4" height="2" fill="#1c67fb"/>
<rect x="80" y="68" width="2" height="2" fill="#1355f2"/>
<rect x="82" y="68" width="6" height="2" fill="#1c67fb"/>
<rect x="88" y="68" width="2" height="2" fill="#1355f2"/>
<rect x="90" y="68" width="2" height="2" fill="#1c67fb"/>
<rect x="36" y="70" width="2" height="2" fill="#2479ff"/>
<rect x="38" y="70" width="4" height="2" fill="#1c67fb"/>
<rect x="42" y="70" width="2" height="2" fill="#1355f2"/>
<rect x="44" y="70" width="10" height="2" fill="#1c67fb"/>
<rect x="54" y="70" width="2" height="2" fill="#1355f2"/>
<rect x="56" y="70" width="4" height="2" fill="#1c67fb"/>
<rect x="60" y="70" width="2" height="2" fill="#1355f2"/>
<rect x="62" y="70" width="4" height="2" fill="#1c67fb"/>
<rect x="66" y="70" width="2" height="2" fill="#1355f2"/>
<rect x="68" y="70" width="2" height="2" fill="#1c67fb"/>
<rect x="70" y="70" width="4" height="2" fill="#1355f2"/>
<rect x="74" y="70" width="10" height="2" fill="#1c67fb"/>
<rect x="84" y="70" width="6" height="2" fill="#1355f2"/>
<rect x="90" y="70" width="2" height="2" fill="#1c67fb"/>
<rect x="36" y="72" width="8" height="2" fill="#1c67fb"/>
<rect x="44" y="72" width="2" height="2" fill="#1355f2"/>
<rect x="46" y="72" width="2" height="2" fill="#1c67fb"/>
<rect x="48" y="72" width="2" height="2" fill="#2479ff"/>
<rect x="50" y="72" width="2" height="2" fill="#1355f2"/>
<rect x="52" y="72" width="2" height="2" fill="#1c67fb"/>
<rect x="54" y="72" width="2" height="2" fill="#1355f2"/>
<rect x="56" y="72" width="2" height="2" fill="#1c67fb"/>
<rect x="58" y="72" width="6" height="2" fill="#1355f2"/>
<rect x="64" y="72" width="4" height="2" fill="#1c67fb"/>
<rect x="68" y="72" width="2" height="2" fill="#1355f2"/>
<rect x="70" y="72" width="2" height="2" fill="#1c67fb"/>
<rect x="72" y="72" width="8" height="2" fill="#1355f2"/>
<rect x="80" y="72" width="4" height="2" fill="#1c67fb"/>
<rect x="84" y="72" width="4" height="2" fill="#1355f2"/>
<rect x="88" y="72" width="4" height="2" fill="#1c67fb"/>
<rect x="36" y="74" width="2" height="2" fill="#2479ff"/>
<rect x="38" y="74" width="4" height="2" fill="#1c67fb"/>
<rect x="42" y="74" width="2" height="2" fill="#1355f2"/>
<rect x="44" y="74" width="2" height="2" fill="#1c67fb"/>
<rect x="46" y="74" width="2" height="2" fill="#1355f2"/>
<rect x="48" y="74" width="4" height="2" fill="#1c67fb"/>
<rect x="52" y="74" width="4" height="2" fill="#1355f2"/>
<rect x="56" y="74" width="2" height="2" fill="#1c67fb"/>
<rect x="58" y="74" width="2" height="2" fill="#1355f2"/>
<rect x="60" y="74" width="2" height="2" fill="#1c67fb"/>
<rect x="62" y="74" width="4" height="2" fill="#2479ff"/>
<rect x="66" y="74" width="2" height="2" fill="#1355f2"/>
<rect x="68" y="74" width="6" height="2" fill="#1c67fb"/>
<rect x="74" y="74" width="2" height="2" fill="#2479ff"/>
<rect x="76" y="74" width="2" height="2" fill="#1c67fb"/>
<rect x="78" y="74" width="2" height="2" fill="#1355f2"/>
<rect x="80" y="74" width="2" height="2" fill="#2479ff"/>
<rect x="82" y="74" width="6" height="2" fill="#1c67fb"/>
<rect x="88" y="74" width="2" height="2" fill="#1355f2"/>
<rect x="90" y="74" width="2" height="2" fill="#1c67fb"/>
</g>
<g transform="translate(303.9,0)"><use href="#city" fill="none" stroke="#58b8e8" stroke-width="0.8" stroke-linejoin="round"/></g>
<g transform="translate(410.8,0)"><use href="#city" fill="#ffffff" stroke="#000" stroke-width="0.95" stroke-linejoin="round"/></g>
<line x1="66.70" y1="130.5" x2="66.70" y2="254.5" stroke="#b8b8b8" stroke-width="0.9" stroke-dasharray="1.1,1.5"/>
<line x1="19.50" y1="254.5" x2="19.50" y2="252.7" stroke="#808080" stroke-width="0.9"/>
<line x1="19.50" y1="130.5" x2="19.50" y2="132.3" stroke="#808080" stroke-width="0.9"/>
<line x1="43.25" y1="254.5" x2="43.25" y2="252.7" stroke="#808080" stroke-width="0.9"/>
<line x1="43.25" y1="130.5" x2="43.25" y2="132.3" stroke="#808080" stroke-width="0.9"/>
<line x1="67.00" y1="254.5" x2="67.00" y2="252.7" stroke="#808080" stroke-width="0.9"/>
<line x1="67.00" y1="130.5" x2="67.00" y2="132.3" stroke="#808080" stroke-width="0.9"/>
<line x1="90.75" y1="254.5" x2="90.75" y2="252.7" stroke="#808080" stroke-width="0.9"/>
<line x1="90.75" y1="130.5" x2="90.75" y2="132.3" stroke="#808080" stroke-width="0.9"/>
<line x1="114.50" y1="254.5" x2="114.50" y2="252.7" stroke="#808080" stroke-width="0.9"/>
<line x1="114.50" y1="130.5" x2="114.50" y2="132.3" stroke="#808080" stroke-width="0.9"/>
<line x1="19.5" y1="254.50" x2="21.3" y2="254.50" stroke="#808080" stroke-width="0.9"/>
<line x1="114.5" y1="254.50" x2="112.7" y2="254.50" stroke="#808080" stroke-width="0.9"/>
<line x1="19.5" y1="223.50" x2="21.3" y2="223.50" stroke="#808080" stroke-width="0.9"/>
<line x1="114.5" y1="223.50" x2="112.7" y2="223.50" stroke="#808080" stroke-width="0.9"/>
<line x1="19.5" y1="192.50" x2="21.3" y2="192.50" stroke="#808080" stroke-width="0.9"/>
<line x1="114.5" y1="192.50" x2="112.7" y2="192.50" stroke="#808080" stroke-width="0.9"/>
<line x1="19.5" y1="161.50" x2="21.3" y2="161.50" stroke="#808080" stroke-width="0.9"/>
<line x1="114.5" y1="161.50" x2="112.7" y2="161.50" stroke="#808080" stroke-width="0.9"/>
<line x1="19.5" y1="130.50" x2="21.3" y2="130.50" stroke="#808080" stroke-width="0.9"/>
<line x1="114.5" y1="130.50" x2="112.7" y2="130.50" stroke="#808080" stroke-width="0.9"/>
<rect x="19.5" y="130.5" width="95.0" height="124.0" fill="none" stroke="#a6a6a6" stroke-width="1"/>
<text x="41.40" y="126.90" font-size="8.6" fill="#1a1a1a" textLength="51.90" lengthAdjust="spacingAndGlyphs">Temperature</text>
<text x="24.70" y="141.60" font-size="8.2" font-weight="bold" fill="#111" textLength="12.80" lengthAdjust="spacingAndGlyphs">(e)</text>
<text x="38.20" y="275.60" font-size="8.6" fill="#1a1a1a" textLength="57.80" lengthAdjust="spacingAndGlyphs">T change (°C)</text>
<text x="19.50" y="265.8" font-size="8.6" fill="#1a1a1a" text-anchor="middle">-1</text>
<text x="43.25" y="265.8" font-size="8.6" fill="#1a1a1a" text-anchor="middle">-0.5</text>
<text x="67.00" y="265.8" font-size="8.6" fill="#1a1a1a" text-anchor="middle">0</text>
<text x="90.75" y="265.8" font-size="8.6" fill="#1a1a1a" text-anchor="middle">0.5</text>
<text x="114.50" y="265.8" font-size="8.6" fill="#1a1a1a" text-anchor="middle">1</text>
<line x1="179.70" y1="130.5" x2="179.70" y2="254.5" stroke="#909090" stroke-width="0.9" stroke-dasharray="1.1,1.5"/>
<line x1="142.00" y1="254.5" x2="142.00" y2="252.7" stroke="#808080" stroke-width="0.9"/>
<line x1="142.00" y1="130.5" x2="142.00" y2="132.3" stroke="#808080" stroke-width="0.9"/>
<line x1="161.00" y1="254.5" x2="161.00" y2="252.7" stroke="#808080" stroke-width="0.9"/>
<line x1="161.00" y1="130.5" x2="161.00" y2="132.3" stroke="#808080" stroke-width="0.9"/>
<line x1="180.00" y1="254.5" x2="180.00" y2="252.7" stroke="#808080" stroke-width="0.9"/>
<line x1="180.00" y1="130.5" x2="180.00" y2="132.3" stroke="#808080" stroke-width="0.9"/>
<line x1="199.00" y1="254.5" x2="199.00" y2="252.7" stroke="#808080" stroke-width="0.9"/>
<line x1="199.00" y1="130.5" x2="199.00" y2="132.3" stroke="#808080" stroke-width="0.9"/>
<line x1="218.00" y1="254.5" x2="218.00" y2="252.7" stroke="#808080" stroke-width="0.9"/>
<line x1="218.00" y1="130.5" x2="218.00" y2="132.3" stroke="#808080" stroke-width="0.9"/>
<line x1="132.5" y1="254.50" x2="134.3" y2="254.50" stroke="#808080" stroke-width="0.9"/>
<line x1="227.5" y1="254.50" x2="225.7" y2="254.50" stroke="#808080" stroke-width="0.9"/>
<line x1="132.5" y1="223.50" x2="134.3" y2="223.50" stroke="#808080" stroke-width="0.9"/>
<line x1="227.5" y1="223.50" x2="225.7" y2="223.50" stroke="#808080" stroke-width="0.9"/>
<line x1="132.5" y1="192.50" x2="134.3" y2="192.50" stroke="#808080" stroke-width="0.9"/>
<line x1="227.5" y1="192.50" x2="225.7" y2="192.50" stroke="#808080" stroke-width="0.9"/>
<line x1="132.5" y1="161.50" x2="134.3" y2="161.50" stroke="#808080" stroke-width="0.9"/>
<line x1="227.5" y1="161.50" x2="225.7" y2="161.50" stroke="#808080" stroke-width="0.9"/>
<line x1="132.5" y1="130.50" x2="134.3" y2="130.50" stroke="#808080" stroke-width="0.9"/>
<line x1="227.5" y1="130.50" x2="225.7" y2="130.50" stroke="#808080" stroke-width="0.9"/>
<rect x="132.5" y="130.5" width="95.0" height="124.0" fill="none" stroke="#a6a6a6" stroke-width="1"/>
<text x="145.50" y="126.90" font-size="8.6" fill="#1a1a1a" textLength="68.80" lengthAdjust="spacingAndGlyphs">Specific Humidity</text>
<text x="137.70" y="141.60" font-size="8.2" font-weight="bold" fill="#111" textLength="10.30" lengthAdjust="spacingAndGlyphs">(f)</text>
<text x="146.30" y="275.60" font-size="8.6" fill="#1a1a1a" textLength="66.50" lengthAdjust="spacingAndGlyphs">q change (g/kg)</text>
<text x="142.00" y="265.8" font-size="8.6" fill="#1a1a1a" text-anchor="middle">-0.2</text>
<text x="161.00" y="265.8" font-size="8.6" fill="#1a1a1a" text-anchor="middle">-0.1</text>
<text x="180.00" y="265.8" font-size="8.6" fill="#1a1a1a" text-anchor="middle">0</text>
<text x="199.00" y="265.8" font-size="8.6" fill="#1a1a1a" text-anchor="middle">0.1</text>
<text x="218.00" y="265.8" font-size="8.6" fill="#1a1a1a" text-anchor="middle">0.2</text>
<line x1="292.80" y1="130.5" x2="292.80" y2="254.5" stroke="#5a5a5a" stroke-width="0.9" stroke-dasharray="1.1,1.5"/>
<line x1="245.50" y1="254.5" x2="245.50" y2="252.7" stroke="#808080" stroke-width="0.9"/>
<line x1="245.50" y1="130.5" x2="245.50" y2="132.3" stroke="#808080" stroke-width="0.9"/>
<line x1="269.25" y1="254.5" x2="269.25" y2="252.7" stroke="#808080" stroke-width="0.9"/>
<line x1="269.25" y1="130.5" x2="269.25" y2="132.3" stroke="#808080" stroke-width="0.9"/>
<line x1="293.00" y1="254.5" x2="293.00" y2="252.7" stroke="#808080" stroke-width="0.9"/>
<line x1="293.00" y1="130.5" x2="293.00" y2="132.3" stroke="#808080" stroke-width="0.9"/>
<line x1="316.75" y1="254.5" x2="316.75" y2="252.7" stroke="#808080" stroke-width="0.9"/>
<line x1="316.75" y1="130.5" x2="316.75" y2="132.3" stroke="#808080" stroke-width="0.9"/>
<line x1="340.50" y1="254.5" x2="340.50" y2="252.7" stroke="#808080" stroke-width="0.9"/>
<line x1="340.50" y1="130.5" x2="340.50" y2="132.3" stroke="#808080" stroke-width="0.9"/>
<line x1="245.5" y1="254.50" x2="247.3" y2="254.50" stroke="#808080" stroke-width="0.9"/>
<line x1="340.5" y1="254.50" x2="338.7" y2="254.50" stroke="#808080" stroke-width="0.9"/>
<line x1="245.5" y1="223.50" x2="247.3" y2="223.50" stroke="#808080" stroke-width="0.9"/>
<line x1="340.5" y1="223.50" x2="338.7" y2="223.50" stroke="#808080" stroke-width="0.9"/>
<line x1="245.5" y1="192.50" x2="247.3" y2="192.50" stroke="#808080" stroke-width="0.9"/>
<line x1="340.5" y1="192.50" x2="338.7" y2="192.50" stroke="#808080" stroke-width="0.9"/>
<line x1="245.5" y1="161.50" x2="247.3" y2="161.50" stroke="#808080" stroke-width="0.9"/>
<line x1="340.5" y1="161.50" x2="338.7" y2="161.50" stroke="#808080" stroke-width="0.9"/>
<line x1="245.5" y1="130.50" x2="247.3" y2="130.50" stroke="#808080" stroke-width="0.9"/>
<line x1="340.5" y1="130.50" x2="338.7" y2="130.50" stroke="#808080" stroke-width="0.9"/>
<rect x="245.5" y="130.5" width="95.0" height="124.0" fill="none" stroke="#a6a6a6" stroke-width="1"/>
<text x="260.60" y="126.90" font-size="8.6" fill="#1a1a1a" textLength="64.80" lengthAdjust="spacingAndGlyphs">Vertical Velocity</text>
<text x="250.70" y="141.60" font-size="8.2" font-weight="bold" fill="#111" textLength="12.50" lengthAdjust="spacingAndGlyphs">(g)</text>
<text x="256.90" y="275.60" font-size="8.6" fill="#1a1a1a" textLength="72.10" lengthAdjust="spacingAndGlyphs">W change (cm/s)</text>
<text x="245.50" y="265.8" font-size="8.6" fill="#1a1a1a" text-anchor="middle">-0.5</text>
<text x="269.25" y="265.8" font-size="8.6" fill="#1a1a1a" text-anchor="middle">-0.25</text>
<text x="293.00" y="265.8" font-size="8.6" fill="#1a1a1a" text-anchor="middle">0</text>
<text x="316.75" y="265.8" font-size="8.6" fill="#1a1a1a" text-anchor="middle">0.25</text>
<text x="340.50" y="265.8" font-size="8.6" fill="#1a1a1a" text-anchor="middle">0.5</text>
<line x1="405.30" y1="130.5" x2="405.30" y2="254.5" stroke="#6a6a6a" stroke-width="0.9" stroke-dasharray="1.1,1.5"/>
<line x1="358.50" y1="254.5" x2="358.50" y2="252.7" stroke="#808080" stroke-width="0.9"/>
<line x1="358.50" y1="130.5" x2="358.50" y2="132.3" stroke="#808080" stroke-width="0.9"/>
<line x1="382.25" y1="254.5" x2="382.25" y2="252.7" stroke="#808080" stroke-width="0.9"/>
<line x1="382.25" y1="130.5" x2="382.25" y2="132.3" stroke="#808080" stroke-width="0.9"/>
<line x1="406.00" y1="254.5" x2="406.00" y2="252.7" stroke="#808080" stroke-width="0.9"/>
<line x1="406.00" y1="130.5" x2="406.00" y2="132.3" stroke="#808080" stroke-width="0.9"/>
<line x1="429.75" y1="254.5" x2="429.75" y2="252.7" stroke="#808080" stroke-width="0.9"/>
<line x1="429.75" y1="130.5" x2="429.75" y2="132.3" stroke="#808080" stroke-width="0.9"/>
<line x1="453.50" y1="254.5" x2="453.50" y2="252.7" stroke="#808080" stroke-width="0.9"/>
<line x1="453.50" y1="130.5" x2="453.50" y2="132.3" stroke="#808080" stroke-width="0.9"/>
<line x1="358.5" y1="254.50" x2="360.3" y2="254.50" stroke="#808080" stroke-width="0.9"/>
<line x1="453.5" y1="254.50" x2="451.7" y2="254.50" stroke="#808080" stroke-width="0.9"/>
<line x1="358.5" y1="223.50" x2="360.3" y2="223.50" stroke="#808080" stroke-width="0.9"/>
<line x1="453.5" y1="223.50" x2="451.7" y2="223.50" stroke="#808080" stroke-width="0.9"/>
<line x1="358.5" y1="192.50" x2="360.3" y2="192.50" stroke="#808080" stroke-width="0.9"/>
<line x1="453.5" y1="192.50" x2="451.7" y2="192.50" stroke="#808080" stroke-width="0.9"/>
<line x1="358.5" y1="161.50" x2="360.3" y2="161.50" stroke="#808080" stroke-width="0.9"/>
<line x1="453.5" y1="161.50" x2="451.7" y2="161.50" stroke="#808080" stroke-width="0.9"/>
<line x1="358.5" y1="130.50" x2="360.3" y2="130.50" stroke="#808080" stroke-width="0.9"/>
<line x1="453.5" y1="130.50" x2="451.7" y2="130.50" stroke="#808080" stroke-width="0.9"/>
<rect x="358.5" y="130.5" width="95.0" height="124.0" fill="none" stroke="#a6a6a6" stroke-width="1"/>
<text x="377.50" y="126.90" font-size="8.6" fill="#1a1a1a" textLength="57.10" lengthAdjust="spacingAndGlyphs">Cloud Fraction</text>
<text x="363.70" y="141.60" font-size="8.2" font-weight="bold" fill="#111" textLength="13.20" lengthAdjust="spacingAndGlyphs">(h)</text>
<text x="366.30" y="275.60" font-size="8.6" fill="#1a1a1a" textLength="79.70" lengthAdjust="spacingAndGlyphs">CldFra change (%)</text>
<text x="358.50" y="265.8" font-size="8.6" fill="#1a1a1a" text-anchor="middle">-4</text>
<text x="382.25" y="265.8" font-size="8.6" fill="#1a1a1a" text-anchor="middle">-2</text>
<text x="406.00" y="265.8" font-size="8.6" fill="#1a1a1a" text-anchor="middle">0</text>
<text x="429.75" y="265.8" font-size="8.6" fill="#1a1a1a" text-anchor="middle">2</text>
<text x="453.50" y="265.8" font-size="8.6" fill="#1a1a1a" text-anchor="middle">4</text>
<line x1="519.30" y1="130.5" x2="519.30" y2="254.5" stroke="#b8b8b8" stroke-width="0.9" stroke-dasharray="1.1,1.5"/>
<line x1="471.50" y1="254.5" x2="471.50" y2="252.7" stroke="#808080" stroke-width="0.9"/>
<line x1="471.50" y1="130.5" x2="471.50" y2="132.3" stroke="#808080" stroke-width="0.9"/>
<line x1="495.25" y1="254.5" x2="495.25" y2="252.7" stroke="#808080" stroke-width="0.9"/>
<line x1="495.25" y1="130.5" x2="495.25" y2="132.3" stroke="#808080" stroke-width="0.9"/>
<line x1="519.00" y1="254.5" x2="519.00" y2="252.7" stroke="#808080" stroke-width="0.9"/>
<line x1="519.00" y1="130.5" x2="519.00" y2="132.3" stroke="#808080" stroke-width="0.9"/>
<line x1="542.75" y1="254.5" x2="542.75" y2="252.7" stroke="#808080" stroke-width="0.9"/>
<line x1="542.75" y1="130.5" x2="542.75" y2="132.3" stroke="#808080" stroke-width="0.9"/>
<line x1="566.50" y1="254.5" x2="566.50" y2="252.7" stroke="#808080" stroke-width="0.9"/>
<line x1="566.50" y1="130.5" x2="566.50" y2="132.3" stroke="#808080" stroke-width="0.9"/>
<line x1="471.5" y1="254.50" x2="473.3" y2="254.50" stroke="#808080" stroke-width="0.9"/>
<line x1="566.5" y1="254.50" x2="564.7" y2="254.50" stroke="#808080" stroke-width="0.9"/>
<line x1="471.5" y1="223.50" x2="473.3" y2="223.50" stroke="#808080" stroke-width="0.9"/>
<line x1="566.5" y1="223.50" x2="564.7" y2="223.50" stroke="#808080" stroke-width="0.9"/>
<line x1="471.5" y1="192.50" x2="473.3" y2="192.50" stroke="#808080" stroke-width="0.9"/>
<line x1="566.5" y1="192.50" x2="564.7" y2="192.50" stroke="#808080" stroke-width="0.9"/>
<line x1="471.5" y1="161.50" x2="473.3" y2="161.50" stroke="#808080" stroke-width="0.9"/>
<line x1="566.5" y1="161.50" x2="564.7" y2="161.50" stroke="#808080" stroke-width="0.9"/>
<line x1="471.5" y1="130.50" x2="473.3" y2="130.50" stroke="#808080" stroke-width="0.9"/>
<line x1="566.5" y1="130.50" x2="564.7" y2="130.50" stroke="#808080" stroke-width="0.9"/>
<rect x="471.5" y="130.5" width="95.0" height="124.0" fill="none" stroke="#a6a6a6" stroke-width="1"/>
<text x="465.10" y="126.90" font-size="8.6" fill="#1a1a1a" textLength="108.70" lengthAdjust="spacingAndGlyphs">Moisture Flux Convergence</text>
<text x="476.70" y="141.60" font-size="8.2" font-weight="bold" fill="#111" textLength="9.70" lengthAdjust="spacingAndGlyphs">(i)</text>
<text x="464.40" y="275.60" font-size="8.6" fill="#1a1a1a" textLength="109.60" lengthAdjust="spacingAndGlyphs">MFC change (1E-8 g/kg/s)</text>
<text x="471.50" y="265.8" font-size="8.6" fill="#1a1a1a" text-anchor="middle">-4</text>
<text x="495.25" y="265.8" font-size="8.6" fill="#1a1a1a" text-anchor="middle">-2</text>
<text x="519.00" y="265.8" font-size="8.6" fill="#1a1a1a" text-anchor="middle">0</text>
<text x="542.75" y="265.8" font-size="8.6" fill="#1a1a1a" text-anchor="middle">2</text>
<text x="566.50" y="265.8" font-size="8.6" fill="#1a1a1a" text-anchor="middle">4</text>
<text x="16.2" y="133.00" font-size="8.6" fill="#1a1a1a" text-anchor="end">4</text>
<text x="16.2" y="164.30" font-size="8.6" fill="#1a1a1a" text-anchor="end">3</text>
<text x="16.2" y="195.20" font-size="8.6" fill="#1a1a1a" text-anchor="end">2</text>
<text x="16.2" y="226.60" font-size="8.6" fill="#1a1a1a" text-anchor="end">1</text>
<text x="16.2" y="257.70" font-size="8.6" fill="#1a1a1a" text-anchor="end">0</text>
<text transform="translate(7.6,226.2) rotate(-90)" font-size="9" fill="#1a1a1a" textLength="71.2" lengthAdjust="spacingAndGlyphs">Altitude AGL (km)</text>
<path d="M67.00,130.50 C67.00,137.08 67.23,158.42 67.00,170.00 C66.77,181.58 65.85,193.67 65.60,200.00 C65.35,206.33 65.33,204.67 65.50,208.00 C65.67,211.33 66.15,216.67 66.60,220.00 C67.05,223.33 67.77,225.05 68.20,228.00 C68.63,230.95 68.80,235.13 69.20,237.70 C69.60,240.27 69.88,241.80 70.60,243.40 C71.32,245.00 72.05,246.17 73.50,247.30 C74.95,248.43 76.72,249.40 79.30,250.20 C81.88,251.00 85.62,251.48 89.00,252.10 C92.38,252.72 97.83,253.60 99.60,253.90" fill="none" stroke="#5e3c99" stroke-width="1.25" stroke-linejoin="round" stroke-linecap="round"/>
<path d="M67.20,130.50 C67.20,137.08 67.27,158.42 67.20,170.00 C67.13,181.58 66.85,192.50 66.80,200.00 C66.75,207.50 66.80,210.33 66.90,215.00 C67.00,219.67 67.27,223.90 67.40,228.00 C67.53,232.10 67.40,236.70 67.70,239.60 C68.00,242.50 68.40,243.72 69.20,245.40 C70.00,247.08 70.82,248.30 72.50,249.70 C74.18,251.10 78.17,253.12 79.30,253.80" fill="none" stroke="#e66101" stroke-width="1.25" stroke-linejoin="round" stroke-linecap="round"/>
<path d="M180.60,130.50 C180.62,137.08 180.67,161.08 180.70,170.00 C180.73,178.92 180.63,180.83 180.80,184.00 C180.97,187.17 181.22,186.93 181.70,189.00 C182.18,191.07 182.88,193.23 183.70,196.40 C184.52,199.57 186.05,205.30 186.60,208.00 C187.15,210.70 187.27,211.13 187.00,212.60 C186.73,214.07 185.68,215.13 185.00,216.80 C184.32,218.47 183.68,221.07 182.90,222.60 C182.12,224.13 181.48,223.97 180.30,226.00 C179.12,228.03 177.47,231.85 175.80,234.80 C174.13,237.75 172.32,241.30 170.30,243.70 C168.28,246.10 165.92,247.82 163.70,249.20 C161.48,250.58 159.12,251.15 157.00,252.00 C154.88,252.85 152.00,253.92 151.00,254.30" fill="none" stroke="#5e3c99" stroke-width="1.25" stroke-linejoin="round" stroke-linecap="round"/>
<path d="M180.40,130.50 C180.40,137.08 180.40,159.08 180.40,170.00 C180.40,180.92 180.18,189.67 180.40,196.00 C180.62,202.33 181.43,204.67 181.70,208.00 C181.97,211.33 182.08,213.57 182.00,216.00 C181.92,218.43 181.38,220.27 181.20,222.60 C181.02,224.93 181.02,227.22 180.90,230.00 C180.78,232.78 180.70,235.30 180.50,239.30 C180.30,243.30 179.83,251.55 179.70,254.00" fill="none" stroke="#e66101" stroke-width="1.25" stroke-linejoin="round" stroke-linecap="round"/>
<path d="M284.10,130.50 C284.27,135.08 284.73,151.42 285.10,158.00 C285.47,164.58 285.73,166.67 286.30,170.00 C286.87,173.33 287.72,175.67 288.50,178.00 C289.28,180.33 289.97,181.55 291.00,184.00 C292.03,186.45 293.37,190.12 294.70,192.70 C296.03,195.28 297.13,197.23 299.00,199.50 C300.87,201.77 303.52,204.23 305.90,206.30 C308.28,208.37 311.52,210.48 313.30,211.90 C315.08,213.32 315.25,213.67 316.60,214.80 C317.95,215.93 319.80,217.23 321.40,218.70 C323.00,220.17 324.25,221.28 326.20,223.60 C328.15,225.92 331.83,230.53 333.10,232.60 C334.37,234.67 334.15,234.63 333.80,236.00 C333.45,237.37 332.95,239.30 331.00,240.80 C329.05,242.30 325.43,243.62 322.10,245.00 C318.77,246.38 313.70,248.12 311.00,249.10 C308.30,250.08 307.30,250.08 305.90,250.90 C304.50,251.72 303.15,253.48 302.60,254.00" fill="none" stroke="#5e3c99" stroke-width="1.25" stroke-linejoin="round" stroke-linecap="round"/>
<path d="M289.80,130.50 C289.92,133.75 290.25,145.42 290.50,150.00 C290.75,154.58 290.97,154.67 291.30,158.00 C291.63,161.33 291.83,165.67 292.50,170.00 C293.17,174.33 294.42,180.02 295.30,184.00 C296.18,187.98 297.08,191.22 297.80,193.90 C298.52,196.58 298.67,197.62 299.60,200.10 C300.53,202.58 302.30,206.15 303.40,208.80 C304.50,211.45 305.15,213.18 306.20,216.00 C307.25,218.82 308.90,222.72 309.70,225.70 C310.50,228.68 311.00,231.72 311.00,233.90 C311.00,236.08 310.62,237.18 309.70,238.80 C308.78,240.42 307.25,242.00 305.50,243.60 C303.75,245.20 300.93,247.05 299.20,248.40 C297.47,249.75 295.92,250.77 295.10,251.70 C294.28,252.63 294.43,253.62 294.30,254.00" fill="none" stroke="#e66101" stroke-width="1.25" stroke-linejoin="round" stroke-linecap="round"/>
<path d="M405.90,130.50 L406.30,152.00 406.60,168.00 406.80,172.00 410.10,194.00 410.90,199.00 413.40,206.40 411.70,213.00 411.30,218.00 412.60,224.30 413.80,234.20 412.00,236.30 405.70,241.20 395.00,244.60 375.50,248.50 358.90,251.90 361.80,254.20" fill="none" stroke="#5e3c99" stroke-width="1.25" stroke-linejoin="round" stroke-linecap="round"/>
<path d="M405.90,130.50 C405.97,134.08 406.18,145.75 406.30,152.00 C406.42,158.25 406.52,164.67 406.60,168.00 C406.68,171.33 406.70,167.33 406.80,172.00 C406.90,176.67 407.00,191.33 407.20,196.00 C407.40,200.67 407.73,196.33 408.00,200.00 C408.27,203.67 408.38,214.33 408.80,218.00 C409.22,221.67 410.28,220.00 410.50,222.00 C410.72,224.00 410.42,227.70 410.10,230.00 C409.78,232.30 409.33,233.93 408.60,235.80 C407.87,237.67 407.33,239.57 405.70,241.20 C404.07,242.83 401.73,244.30 398.80,245.60 C395.87,246.90 391.33,247.60 388.10,249.00 C384.87,250.40 380.85,253.17 379.40,254.00" fill="none" stroke="#e66101" stroke-width="1.25" stroke-linejoin="round" stroke-linecap="round"/>
<path d="M519.60,130.50 C519.52,137.08 519.27,161.70 519.10,170.00 C518.93,178.30 518.93,176.85 518.60,180.30 C518.27,183.75 517.78,187.50 517.10,190.70 C516.42,193.90 515.45,196.90 514.50,199.50 C513.55,202.10 512.52,203.80 511.40,206.30 C510.28,208.80 508.32,212.27 507.80,214.50 C507.28,216.73 507.62,217.45 508.30,219.70 C508.98,221.95 510.70,225.63 511.90,228.00 C513.10,230.37 514.07,232.27 515.50,233.90 C516.93,235.53 518.57,236.50 520.50,237.80 C522.43,239.10 524.17,240.42 527.10,241.70 C530.03,242.98 534.05,244.32 538.10,245.50 C542.15,246.68 547.90,247.78 551.40,248.80 C554.90,249.82 557.37,250.77 559.10,251.60 C560.83,252.43 561.35,253.43 561.80,253.80" fill="none" stroke="#5e3c99" stroke-width="1.25" stroke-linejoin="round" stroke-linecap="round"/>
<path d="M519.60,130.50 C519.52,137.08 519.18,160.83 519.10,170.00 C519.02,179.17 519.27,180.58 519.10,185.50 C518.93,190.42 518.70,195.70 518.10,199.50 C517.50,203.30 516.18,205.80 515.50,208.30 C514.82,210.80 514.25,212.25 514.00,214.50 C513.75,216.75 513.93,219.12 514.00,221.80 C514.07,224.48 514.07,228.30 514.40,230.60 C514.73,232.90 514.98,233.85 516.00,235.60 C517.02,237.35 518.47,239.45 520.50,241.10 C522.53,242.75 525.45,244.12 528.20,245.50 C530.95,246.88 534.70,248.38 537.00,249.40 C539.30,250.42 541.08,251.05 542.00,251.60 C542.92,252.15 542.68,252.30 542.50,252.70 C542.32,253.10 541.17,253.78 540.90,254.00" fill="none" stroke="#e66101" stroke-width="1.25" stroke-linejoin="round" stroke-linecap="round"/>
<line x1="210.1" y1="286.4" x2="229.7" y2="286.4" stroke="#5e3c99" stroke-width="1.3"/>
<text x="231.30" y="289.20" font-size="8.3" fill="#1a1a1a" textLength="61.50" lengthAdjust="spacingAndGlyphs">Urban-NoUrban</text>
<line x1="301.3" y1="286.4" x2="320.0" y2="286.4" stroke="#e66101" stroke-width="1.3"/>
<text x="322.40" y="289.20" font-size="8.3" fill="#1a1a1a" textLength="53.20" lengthAdjust="spacingAndGlyphs">Urban-NoAHE</text>
</svg></body></html>
